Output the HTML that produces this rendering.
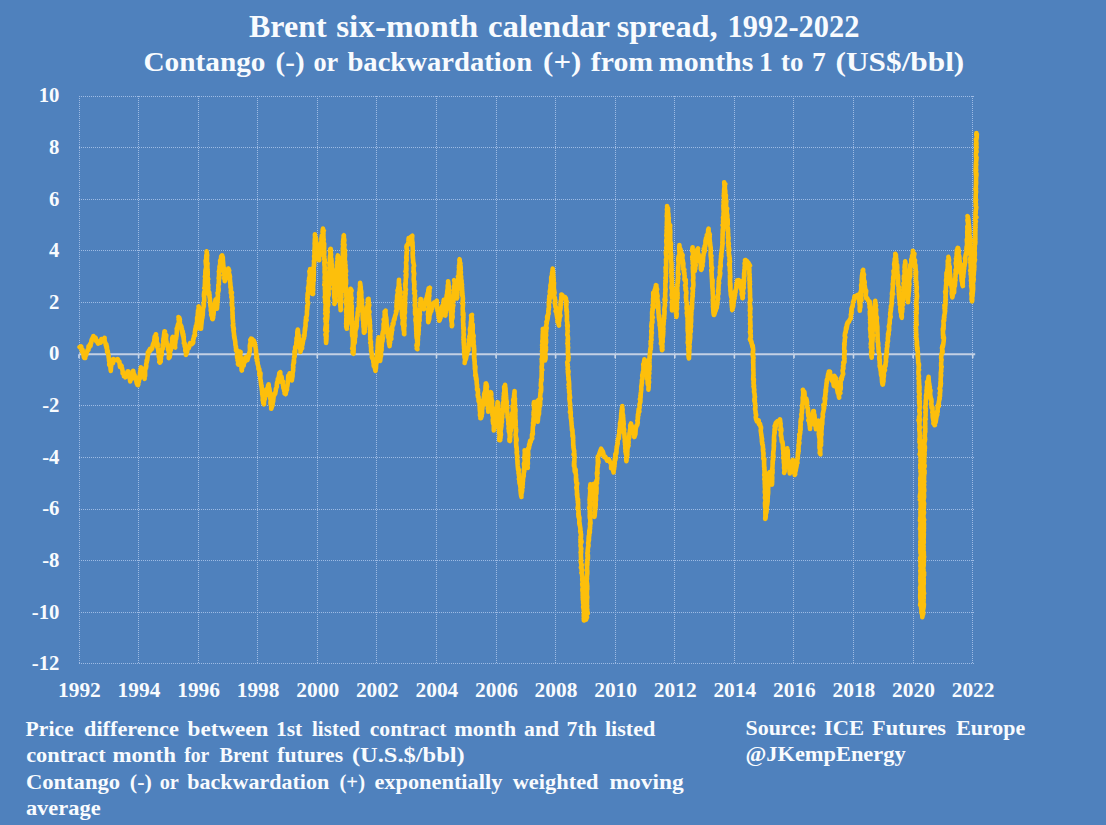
<!DOCTYPE html>
<html><head><meta charset="utf-8"><title>Brent six-month calendar spread</title>
<style>
html,body{margin:0;padding:0;}
body{width:1106px;height:825px;background:#4f81bd;overflow:hidden;position:relative;font-family:"Liberation Serif",serif;font-weight:bold;color:#f2f6fb;}
svg{position:absolute;left:0;top:0;}
</style></head><body>
<svg width="1106" height="825" viewBox="0 0 1106 825">
<g stroke="#9ebbe4" stroke-width="1" stroke-dasharray="1 1" shape-rendering="crispEdges"><line x1="79" y1="663.5" x2="975" y2="663.5"/><line x1="79" y1="612.5" x2="975" y2="612.5"/><line x1="79" y1="560.5" x2="975" y2="560.5"/><line x1="79" y1="509.5" x2="975" y2="509.5"/><line x1="79" y1="457.5" x2="975" y2="457.5"/><line x1="79" y1="405.5" x2="975" y2="405.5"/><line x1="79" y1="302.5" x2="975" y2="302.5"/><line x1="79" y1="250.5" x2="975" y2="250.5"/><line x1="79" y1="199.5" x2="975" y2="199.5"/><line x1="79" y1="147.5" x2="975" y2="147.5"/><line x1="79" y1="96.5" x2="975" y2="96.5"/><line x1="79.5" y1="96" x2="79.5" y2="664"/><line x1="138.5" y1="96" x2="138.5" y2="664"/><line x1="198.5" y1="96" x2="198.5" y2="664"/><line x1="257.5" y1="96" x2="257.5" y2="664"/><line x1="317.5" y1="96" x2="317.5" y2="664"/><line x1="376.5" y1="96" x2="376.5" y2="664"/><line x1="436.5" y1="96" x2="436.5" y2="664"/><line x1="496.5" y1="96" x2="496.5" y2="664"/><line x1="555.5" y1="96" x2="555.5" y2="664"/><line x1="615.5" y1="96" x2="615.5" y2="664"/><line x1="674.5" y1="96" x2="674.5" y2="664"/><line x1="734.5" y1="96" x2="734.5" y2="664"/><line x1="793.5" y1="96" x2="793.5" y2="664"/><line x1="853.5" y1="96" x2="853.5" y2="664"/><line x1="913.5" y1="96" x2="913.5" y2="664"/><line x1="972.5" y1="96" x2="972.5" y2="664"/></g>
<line x1="79.0" y1="354.3" x2="975.2" y2="354.3" stroke="#c3d0e4" stroke-width="2"/>
<g stroke="#c9d6e8" stroke-width="1.6"><line x1="79.0" y1="354.3" x2="79.0" y2="358.3"/><line x1="138.6" y1="354.3" x2="138.6" y2="358.3"/><line x1="198.2" y1="354.3" x2="198.2" y2="358.3"/><line x1="257.7" y1="354.3" x2="257.7" y2="358.3"/><line x1="317.3" y1="354.3" x2="317.3" y2="358.3"/><line x1="376.9" y1="354.3" x2="376.9" y2="358.3"/><line x1="436.5" y1="354.3" x2="436.5" y2="358.3"/><line x1="496.1" y1="354.3" x2="496.1" y2="358.3"/><line x1="555.6" y1="354.3" x2="555.6" y2="358.3"/><line x1="615.2" y1="354.3" x2="615.2" y2="358.3"/><line x1="674.8" y1="354.3" x2="674.8" y2="358.3"/><line x1="734.4" y1="354.3" x2="734.4" y2="358.3"/><line x1="794.0" y1="354.3" x2="794.0" y2="358.3"/><line x1="853.5" y1="354.3" x2="853.5" y2="358.3"/><line x1="913.1" y1="354.3" x2="913.1" y2="358.3"/><line x1="972.7" y1="354.3" x2="972.7" y2="358.3"/></g>
<path d="M79.6,347.2l1.2-.9 .4 .1 .4 3.2 .3 1.6 .2 .4 .5-1.8 .2 2.8-.2-1.1 .6 1.3 .4 2.5 .2 1.7 .5 1 .6-.2 .3 .1 0-2.1 .5-1 .5 .3 .1-2 .9-1.3 .2-1.5 0 .4 1.1-1 0-3.5 .3 .6 .6 .3 .6-3 .4 1.1 .2 .6 0-2.1 .6-.7 .2-2.2 .6-1.9 0 1.5 1-3.6 .4 1.9 0-2.6 1.2 2.5 1.1-.6 .5 3.1 .8 .4 1 2.1 1-.4 1.1-2.4 .7 1.7 .6-3.5 .6 2 1.6-1 1-2.2-.1 2.8 .5 1.3 .4 .8 0-.1 .4 2.8 .6-.9 0 3.3 .4-1.8 .2 1.6 .1 3.2 .1 1.5 .6-1.4 .2 2.7 .1 .6 .3 .6 .1 .5 .1 1.8 .3 1.5 .2 2.8 0-1.5 .5 .8 0 .5-.4 3.6 .8-1.9 .2 2.1 .3 .3-.1 1.7 .4 3.9 .2-3.8 .3-1.4 .3-4.3 .1 2.8 .8-1.2 .5 .1-.1-3.9 .5-.1-.4 1.1 1.5 .3 1.2-.5 1.9-1 .3 .4 .6 1.9 .9 .2 .2 2.1 .4 3.4 .8-.5 .5-.4 .3 .7-.2-1.3 .4 3 .2-.5 .7 3.5-.1 1.9 .3-.5 .9 1.5 .2-.9-.1 2.8 .6-2.1-.1 2.3 .7 .1 .2 .7 1-.9 .2-.6 .7-3.5 .3-.7 .2 2.7 .3-3.1 .6 .3-.1 3.5 .6 1.4 .4 1.2 .3 .9 .4 2.9 .1-1.1-.1-1.1 .8-1.7 0-.3 .4 .5 .3-1 .3 2 .6-1.7-.2-2 .8-1.8 0-2.5 .6 3.7 .3 .6-.1 1 .5-1.2 .3 3.5 .3-.6 .5-.3 .4 1 .4-.5-.2 2.7 .7 3.1 .2-2 .4 3.2 .5 .2 .1-.7 .3-.2-.4-1.8 .9-.7-.2-2.4-.1 1.3 1.2-2.1-.2-3.1 0 1.9 .5-1.8-.1-3.1 .5-.1-.1-1.1 .2-2.3 .3 .9 0-2.5 .7 2.9-.6-.4 1 .6 .3 2.2 .3-.8 .4-1.8-.1 3 .8 2.8-.2-1.8 .5 2.3 0 .5 .6 2-.4-4.3 .7 1.6 .2-.1 0-4.1-.1-3.5 .5 .8 0-1.3 .3 .3 .2-.3 .3-2.1-.2-.8 .3-1.8 .2-.7 .2-.7-.2-1.2 .7-.3 0-.9 .1-1 .5-3.9 .4-.7-.5-1.2 1.2-1-.4-.2 .7-1.3 .2 .5 .4 .6 .2-2.4 1.2 .9 .7-1.1 .6-2.5 .4-1.7 .2-.1 .7-1.7-.4 .6 .9-2-.1-1.8 .1 .4 .3-3.3 .5 .2 0-.1 .4-.6 .2-1.7 .3 .2-.1-.2-.1 2 0 .7 .8 .7 0 2.4-.2 .5 .6 3.4-.2 .8-.1-.6 .8 1.7 0-2.1-.3 3.2 .3-1.3 .1 1.8 .5 2 .2 2.1 .3 2.4-.2-2 0 .4 .4 2-.2 2.1 .5-.9 0 1.8 .1 1.4 .4 2.1-.1 .4-.3 .7 .8-.1 .1 .1-.2 .7 .4-1 .3-.1-.2-1.4 .3-1.2 .2 0-.2-2.5 .3-1.1 .3-1.9 .1-.5 0 .4 .2 1.6 .2-1.7-.4-1.3 .7-3.3 .6-.1-.1-1.1 .1-.4-.2-1.2 0-1.1 .1-.2 .9-1.9-.4-1.9 .1 .5 .2-3.1 .3 .2 .3-2.4-.3 1.6 .1-2 .1 .2 .1-1.6 .4-2.9 0 .9 .4-.9 .1 1.2 .4 3.1 .4-1-.1 1.1 0 .2 .6-.6-.5 4.4 .1-1.5 .5 3.6 .2 .2 0 .7 .1 1.1 .6 .9 .1 1.7 .3-.5 .5 1-.2 2.6 .1 0 .2 .1 .4 2.2 .6 1.8-.3-.4-.2 5 .6-2 .3 1 .1-1.5 .3-.8-.2-3.3 .1 .6 .5-1.8 .2-.7 0 .8 .1-.8 .2-3.3 0 .7 .4-1.2 .2-2.1-.1 2.1 .2-2.1 .3 .3-.1-1.4 .3-2.2 .5-3.6-.6 1.6 .7 1.7 .3 .8 .2-1.3 .2 4 .1-1.1 .6 .2 .3 4.4 .7 .3-.5-2.2 .4-.1-.2-2.6 .5 .1 0-2.6 .3-.6 0-.3 .5-1.1-.2 1.1 0-1 .5-2-.1 .5 .3-2.5 .1-3.2 .3-.7-.4-1.5 .6 .4 .3-1.4-.2-.8 0 0 .5-2.1 .1 .6 0-1.3 .7-1 .3-2.3-.4-1.3 .4-.1-.5-2.5 .8 .9 .6 1.6-.3 .6 .3 1.8-.2 2.1-.3-1.1 1 1.8 .8 1.4-.4-.1 .1 .1 .6 .6 .1 1.7 .4 .9 0 1.8 .2 1.5 .6-1.1-.3 2.3 .5 2.2 .4-1.9 .1 2.5-.1 1.3 .4-1.1-.1 2.4 .3 1.8 .1 1.7-.2 .3 .8 .3-.1 3 .7-.1 0 .4 0 3.3 0 1.1 .3-.2 .5 .6-.2 3.6 .4-1.8 .2-.4 .1 .6 0-.6 .4-.5 .5-2.7 .6-1.1 0-.4 .8-.2 0-1.4 .3 .4 .8-3.7-.8 2.6 .9-2.7 1.5 1.1 1.1-1 .6-1-.2-2.4 0-.2 .5-1 .1-.1 .3-2.4 .2-.4 .5-.8 .4 .5-.3-3 .7-3.7-.2 .4-.1 .9 .5-.4 .3-3.8-.3 2 .7-.6 .2-1.3 0-.1 .1-1.3 0-1.3 .7-2.2-.3-.7 0-2.9 .5 0 0-.4 .4-1.4-.3-1.6 .2 .4 0-2.1 .4-1.3-.3-.4 .5-.8 .3-2.7-.2-.7 .5 2.5-.1-.4 .6 .4-.2 1.3 0 .9-.6 4.5 .8-1.2-.2 .8 .3 3.7 .3-2.8 .2-.3-.2 2.1 .2 3.6-.4-1.5 .7 3.4 .2-.7 0 2.1-.1-2 .4 4-.7 1.9 .8-1.6-.1 1.7 .3-3.7 0-.3 .1-.5 .2-1.9 .1-1.4 .5-3.3-.2 .7 .4-.7-.1-2.3 .3 .5-.5-1.7 .7 .8 0-2 .1-1 .1-2.6 .1-.9 .5-1.7 .1-1.4 .1-.7 0 2 .1-2.7-.4-.4 .5-1.8 0-1.1 .2 .5 .1-.4-.1-2.3 0-1.3-.3-1.1 .4-1.2 .1-1.8 0 .5-.5 1.4 .3-3.1 1-.1-.5-5.1 0 1.5-.4-.2 .6-.4-.1-1.9 0-.5 .1-1.4 .1-4.2 .3 1.1-.1-1.7 .1 .6 .4 .2-.8-3.2 .8 .4-.1-.4-.3-2.8 0 .3 .1-3.9 .7 3.4-.5-3.6 0-.7 .2 .4 .4-3.5-.2-1.2-.1-.3 0-.4-.3-3.5 .4-1.1 .2 .5 .1 .2-.1-2.3 .1-3.1 .3 1.6-.2-1 .1 .3 .2-.8 .2-1.7-.3-2.1 0 .3 .6 3.8-.2-.1 0 2.1-.4 1.4 .4-1.1 0 2.9 0-1.3-.1 .6 .1 3.6 .6-.1-.3 2.2 0-.9 .1 3.2 0 1.2-.1 .2 .4 .6-.3-1.4 0 2.4 .3 .7 0 3.8-.4-.2 .4 2.6-.3-1 .1 .4 .4 1 0 1 .3-.1-.7 .9 .3 1.6 .1 .1-.1 2.4 .6 .9-.3 2 0 .6 .3 .7-.6 .8 .5 1.1 .2 1.8 .7 .7-.6-.6-.1 .1 .7 .1-.3 2.3 .7 .3-.1 1.7 .5 2.6 .1 3.5-.1-.5 .5 2.6-.1-1.1 0 1.1-.1 .1 .1 .7 .6 3.1 .3-1.4-.6 2.9 .7 2.7-.3 1.8 .5-.6 .1 .1-.2 1.8 .1-1.6 .4 1 .3 2.2-.1 1 .5 .4 0 .2 .5-1.9-.1-1.7 0 1-.1-.9 .5-.7 .3-4.2 .2-1.1-.1-.8 .1 .2 .1-.7 .3-.4-.5-1.4 .8 0 .2-4.4 .4 .8 .2-2.4 .4-.4-.3-.8-.2 .9 .7 2.9 .1 2.1-.4-1.2 .4 .3 .5 .7 0 2.3 .2 1.3 .2-.9-.2 0 .5-3.8 0 .2-.2-2.8-.2 .5 .6-1.2 .2 .9-.6-2.9 .6 .2-.4-1.1 .5-.2-.2-1.1 .3-1.3-.5-2.2 .6-.3 .2-1.1-.2-1.8 .2-.9-.1 1.3 .5 .3-.1-2.1-.2-.2-.1-3.1 .6-.9-.1-.9 0-1.8 .3-2.8-.5-.3 .2-1.2 .5 .9 0-3.1-.3 1.1 .1-3.3 .3-.7-.5-.5 .2-.2 .1 .1 .2-2.6 .6-1.3-.1 .6-.5-1.2 .5-2 .4-1.9-.1-1-.1-1.4 1 1-.3-1 .4-4.5 .3 2.8 .4-.2-.2-.5 .5-1-.2-2.1 .2 .2-.1 3.2 .7-1.6 .1 3.3 0-.4 .4 4.8-.3-.7 .3 .6-.1 2.3 .2-1.5 .1 1.3 .4 2-.4 2.4 .6 .5-.1-.2 .3 2.7-.5 .7 .5-1.2 .6 2.3-.2-.1-.5 2.7 .5-.5 .1 1-.1 2.2 .3-.6 .5-2.1 .2-1.4 .2 1.6 .5-2.4 .3-1.7 .1-2.3 0-.4 .2 2 .6-.1-.1-1.1 .8-1.4-.1-2.7 .3 1.7 0-1.7 .3 1.2 .4 .8-.2 .3-.2 3 .8 1.1-.6-1.9-.1 .5 .1 2.7 .9 1.6-.3-1.5 .4 0-.2 2.1 .3 2.3 0 .9 .1 .8 .1 .1 0-.2 .3 5.5 .1-1.6-.3 .6 .6 1.1-.1 2.5-.1-.2 .4 3.5-.4-1.1 1.2-.1-.5 .9 0 2.7-.2 .9 .8 0-.1 1.1-.2-.2 .3 3.1 0 0-.3 2.5 .1 1.6 .2-.4 .1-1.8-.3 2.3 .6 2.1 .2 1.4-.5 .2 .4 4.1-.2 1.2 .3 .9 0 .8-.1 1.6-.1-1.5 .2 2.9 .1-1.1-.1 1.1 .3 1.2-.1 .8 .2 1.6 .2 1.3-.5 1.4 .4 0-.1 2.4 .4-.5 .3 1.1 .1 1.3-.5 .2 .6 3.9 .1 1-.1 1 .3 1.6 .2 1.3-.1-2.6 .4 3.8 .2-.1 0 .7 .3 1.6 .1 2.9 .6 2-.1 1.2 0-1-.1 .1 .2 .9 .4 3.1-.4-1 .5 .9-.1-.3 .5-.8 .6 3.2-.5 1.7 .2 3 0 .1 .5-.3 .2 2.6-.3-.1 .4-.1 0 .1 .3 3.8 0-.6-.3 .7 .6-1.8-.2 2.4 .2-2.9 .5 2.4-.5-3.7 .9-2-.2 1.8 .1-3.3 .5-3.2 .2-.6-.3-1.7 .3 1.2 .3 .3 .2-1-.5 2.9 .7 2.8-.5 .3 .4-1.1-.1 2.7-.1-1 .6 1.3-.1-.7 .6 3.2-.4 1.9 0-1 .3 1 .4 1.8-.5 1.7 .5 2.8-.3-.3 .3-3.8 .3 1.7 .6-3 .4 .4 .5-.1 .2-2.5 .2-1.6 .2 .2 .3 .4 .5-.4 0-2 .3-2.3 1-.5 1 3.3 .6-2.3 1-3 0-.6 .2 .9-.2-1.1 .7-2.4 .2-1.2 0-1-.1-3.7 .5-2.4-.1 1.9 .1-1.6 .6 2.1 .1-2.5-.7-3.3 .4-.4 .4-.9-.1 3.5 .4-3.4 .7 .2 .1 2.9 .8-.4 .4 .8 .4-1.6 1.1 3-.4 1 .5 .5 .1-.4 .5 3.2 .1 .7 .1 .3 .2 1.5 0 1.1 .1 .9 .4 4 .5-.4-.7 1.8 .7 .4 .2 2.3-.4 0 .5-1.3-.2 2 .3 .2 .3 1.4-.2 .6 .8 2.8 .1-.1 .1 1.3-.1 1.2 .5 1.2 .4-.8 .2 4.1-.1 1.9-.1-1.7 .3-.3 .4 1.5 .5-1.3-.3 5.6 .2 .4 .1 .4 0 .3 .3 1.2 0 1.2 .3 .7-.1 1.7 .6 .9-.2 1.2 .1-.2 .6 2.1-.4 .3 .3 1.4-.1-.4 .5 1.5-.3-.1 .1 2.7 .5 1.1-.2 .7 .3 1 0 1.5-.1 2.1 .5-.2 0 2 .1 .8 .7 1.2-.1-2.4 .3-2.1 0 1.3 .3-3.3 .3 1.1-.4-.8 .9-2.8 .2-2.3 .1 2.4-.1-.9 .3-3.9 .4-.7 .4 .2 .5-1.3 .8-1.3 0-.6 .2-1.7 .6 .6 0-1.4 .1 1.4 0 2.7 .4 .7 .1-1.1 .3 1.7 0 .8-.1-.6 .6 3.6-.3 .8-.2 2.3 .8-.9-.3 2.2 .7-1.8-.4 2.7 .5 1.4 .2-2.1-.6 4.2 .2 2 .6 1.8-.1 2.6 .5-1.3-.3-.5 .4-1.1 .4-1.9 .1 .7 .1 1 .2-.9 0-1.7 .6-1.9 .1-2.1 .2-1.1 .3-3.4 .2 .4 .3-1.3 .3 1.2 .6-1.9 .1 .6-.1-.4 .6-2.4 0-1.9 .3-.1 .4-1.6 .2-1 .2 .5-.2-1 .4-3.5 .7 .4 0-2.7 0-1 .5-.3 .4-.2 .1-2.3 .1 1 .1-.9 .3-3 1-1 0 1.2 .1 1.9 .1 1.9 .6 1.5 .5-1.9 .3 2.8 .1 2.7 .7 .3 .3-1-.4-.2 .3 3 .1 .9 .3 1.2 .1 1.5 .5 1.2 .3 .7-.1 1 .5-2.3 .2 2-.2 3 .6 .2 .4 .4-.1-.1 .5-1.7 .2-.9-.4 .4 .6-2.5 .4 .4 .2-.1-.1-2.2 .1 .1-.1-.4 .5-1.3 .5-4.3-.1 .8 .1-2.2 .1 1.8 .2-6.3 .3 .2 0 .3 .7-1.1 .4-1.8-.2 1.7 1 2.8 .6-.8 .2-.7 .7 4.1 .3-3.1 0 1.1 0-3.7 .4 .9-.1 1.3 .1-3.3-.1 .4-.3-.4 .6-1.5 .4-1.6-.1-3.3 .3 .1-.3-2.2 .9-2.6-.5 .7 .4-2.2 .2-.2-.2 1-.2-.6 .3-2.2 .2-2.6 .5-.1-.3-4.7 .1 .9 .4 1.2-.1-.9 .4-.4 0-3.7-.1-1.3 .5 .8-.1-.5 .1-1.3 .6-.4 .2 .9-.2-3.6 .3-2 .3 2.3-.3-5.2 .5-1.2 .1 .6-.1 1.6 .8-3.5-.5-.3 0-3.7 .5-2.4 .4 3.7-.2 1.6 .7 .4-.3-.4 .3 2.8 .1 1 0 2.5 .2-.2 .1 .1 .3 1.5 .4 3.2 0-.6 .2 1.5 0 .8-.1 .3 .6 2.4 0 1.2-.1 .6 .4-1.7 0 .6 .6-1.9 .4-2.3 .3 1.6-.3-1.9 .3-1 0-.7 .2 .7 .5-2.5 0-1.4 .3-.1 .3-2.7 .6-.2 0-1.9-.2-.9 .2-.4 .5 .7 0-2.4 .1 .7 .1-2.7 0-.7 .2-1.2 .2 .7 .1-2.1-.3 .7 .1-.5 .5-2 .1-.1-.1-3.2 .4-2.6-.2-.2 .1 .2 .2-1.9 .6 1.4-.6-2.6 .6-.9 .2-.9 .2-1.8 0 .2-.1-2.2 0 0 .2-1.8 .4-2.8-.1 .2-.3 .4 .4-1.8-.3-.1 .4-.9 .2-.2 .3-1.8-.6-1.9-.1-1.8-.1-.8 .5-1.1-.1 .3-.1-.1-.1-2.6 .3-2.3 .4 1.3 .1-3.4-.1 .2 0-1.2-.2-1.8 .8-.7-.3 1 .1-3.1 .2 .4 .1-2.4 .1-1-.3-1.2 .5-.5-.1-2.3 .1 1 .6-2.2-.2 .4 .2-2.8-.3-2.3 .5 1.4-.4-2.2-.2-.1 .6-.2 .1-2 .1 2.2 .4 1-.2-.2 .3 .6 0 1 0 1.7 .1 3.1 .3 1.3-.1 .9 .3 .6 0-1 0 1 0 2.7-.1-2.1 .3 1.6 .4 1.7 .1 3.3-.2 .2 .6 .9-.6 1.9 .9 .7-.6 .9 .6-.4-.2 1.4 .5-.4 .2 0-.2 .4-.2-2.3-.1 1.1 0 1.2 .4-4.2 .2 .1-.2-1.7 0-1.1 .3-3.8-.1 1.5 .1-1.3-.1-.3-.3 .5 .2-1.5 .6-1.9-.3-2.2 .2-.7-.5-1.4 .3 .6 .4-1.5-.3-1.8 .2 0 .2-1.5-.3 2.1-.4-.5 .5-1.4 0-2.6-.2-2.4 .6-1.2-.3 .8 0-2.4 .5-2.3-.3 .9-.2-1.8 .4 .9 .1-3.2 0-1.8-.2-1.1 .2 .7-.2 .2 .5 0-.2-2.6-.1-2.4 .1-2.1 .3 .5-.1 .4-.1-2.2 .1-1.3 .1-3-.2-1.2 0 .9 .2 1.5 .3-.4-.2-3.3-.1 .5 0-2 .1-1.4 .3-1-.1 .5 .1-1.9-.3-1.9 .1 2.4 .2 1.2 .1 2.1 .7 .2 .1-1.4-.5 .5 .6 2.6-.5 .4 .6 1 .1 .7 .1-.8 .6 4.7-.4-.4 .6 1.4-.4 1.6 .5 .5 .3 2.3 .2 .3 .2-.2-.1 .5-.2 2.5 0-.5 .5 1.6 .2 .6 .1-1.2 0 2.9 .6 .4-.4-2 .4-1.6-.1 .3 .1-.2 .5-.9 .5-1.4-.4-2.1 .4-.4 0-3 .2-.9 .1 1.5 .1-2 .3-4.7 0 2.1 0-1.3 .6-.8 .1-.8-.2-4 .2 1.6 0-2.6 0 2 .2-2.8 .6-1-.5 .3 .5 .4 .6-3-.5-1 .3-1.7 .2-1.6 .2 3 .6-1-.5 .8 .2 2.2-.1 .9 0 3.9 .1-2-.1 .5 .2 2 .2 .8-.4 1 .2 2.3 0 1.8 .2 .4-.3-3 .7 1.7-.1 .3 0 4.3-.2 1.5 .2 .3 .2 1.3-.3 .4 .3 .4-.3-.5 .2 2-.4 1.5 .6 1.1-.4 2.3 .6 .2 .2 1.6-.5 1.9 .2 .8 .4-.8-.5 .7 0 1.2 .3 2.7 0 2 .2-1.1-.3 .3 .1 1.4-.1 2.7 .1 .6-.2-1.1 .4 1.6 0 1.9-.2 .9-.1 1.4 .2-.9 0 .3 0 1.6-.1 2-.1 .9 .2 1.6-.5 1.5 .7-.3-.1-1.3 .1 3.3 .1-.2-.3 2.6 .3 2.2-.1 .5 .1 1.5 .1 1.8-.1-.8 0 2.3 .2 .7-.6 .3 .6 1.1-.2 1.1 .1 2.3-.1-.8 0 1.6 .7-.4-.2 3.4-.1 1.7 .1-2.4-.1 3.5 .2-2.1-.4 4.1 .3 .4 .1 .6-.1 1.1-.4 1 1-.3-.4 2.2 .1 2.4-.5 .7-.2 .2 .6 .6-.1-1.5 .2 3.8-.4-.2 0-.6 .7 3.5-.2-.3-.4 2.5-.4 3.6 .6-.9 .4 3-.4 1.8 .3-.3-.2 .1-.1-.2 .5-.6-.9 1.5 .5 2 .5 1.2-.5 .7 .1 .2 0 1.1 .1 3.3 .4-4.5-.2 0 .1-.9 .2-1 0-.6-.2-2.8 .2-1.8-.2 .7 .7-.9-.8-.1 .5-2.4 0-1.3 0 .3 .1-3.3-.1-.6-.2-1.4 .2-2-.4-1 .4 1.6 .4-2.5 .2-3.5-.1 .2 0-.2 0-.1-.3-3.1 .7 .5-.1-1.1 0-.3-.4 .3 .3-1.5-.1-1.9 .1-1.9 .8-1.6-.5 2.2-.2-1.3-.1-5.3 .8 1.2-.5-.5 0-1.2 .2-2.4 0-.2 0-1.4 .6 .2 .2-1.2-.4-2.7 0-1 .2 .5-.2 .7 .1-3.4-.1 .2 .6 .1-.2-3.5-.5 1.2 .4-1.4 .4-3-.3 .3 .3-.3 0-.4-.3-1.3 .3-2.1 .5-4.1-.7 .9 .4-2.2-.2 .9 0-1 .2-1.4 .3-1-.1-.4 .3-.1-.2-.5-.2-1.8 .4-1.5-.2-.4-.2-2.7 .6 .4-.5-.5 .4-1.5 .1-2.1-.2-.4 .4-2.1-.3 .6 .4-2.2-.2 .6 .1 .7 .3-3.7-.1-.8-.3-.7 .3-2.3-.2 1.7 .4-.3 0-1.7-.1 2.2 .3-1.9 .1 1.4 0 .1-.2 2.1 .4 2-.2 1-.1 1.9 .6 1.6 .2 2.6-.1-.1-.2 .3 .5 2.5-.3-.6 .4 2.6 .1-1.7 0 3.9 0 .1 .4-.5-.2 5 .3-1.7 0 0-.3 2.1 .3-1 .2 2.7-.3 2.1 .2 .4 .3 .3 0-.5 .2 .4-.1 1.2 0 2.3 .1 2.5 .3 1.1 0-1.2 0 .6 .6 1.5 0 1-.5 2.1 .5-2 .1 .5 0 4.5-.1 .5 .1 1.5 .1 .2 0 2.8 0 .6 0-.5 .5 1.2-.1 1.7 .1 1.6 .2 .9-.5 1.2 .7-3.2 .4-.2-.5-.9 .3 1.1 0 .1 .1-3.2-.2-2.4 .1-1.1 0 .6 .1-1.1-.4-.4 .7-2.1 .2-2.4 .1 .2 0 .2-.4-1.9 .2-1.4 .1-.6-.2 2.5 .3-2.2 .4-3-.4-1.4 .2-.6 .2-3.8-.2-.7 .3 1 .5-1.3-.5-.3 .1-1-.2-3.9 .8-.9-.4 .5 .3-1.1 .2-.3 .1 .2-.2-1.8-.1-1.6 0-2.7 0-.6 .3 1.7 .2-.2 .1-1.1 0-2.8-.3-1.3 .7 .8 0-3.1-.5 .6 .3-1.3-.1 1.1 .1-.9 .2 3 .2 1.3-.2-.8 .3 2-.1 1.1 .4 1-.4-1.7 .1 5.7 0-2.7-.1 .4 .6 2.8-.2 1.9 0 1.9-.1-1 .1 1.9 0 0-.1-.2 .2 2.3 .5 1.5-.3 1.5-.2-.6 .1 2.4 0 1.5 .3 .8 0 2 .2-.3 .4 1.1-.5 .7 .3 .8 .1 1.6 .5-.7-.6 4.3 .2-1.6-.5 2.2 .2 .8 .7 1.5-.6 1.9 .6 1.7 0-.9-.2 2.7 0-.3-.3 2 .3 1.6 0 .7 .2-1.4-.1 2.4 .2 1.2 .2 1.8 .1 .4 0 2.4 .5-.8-.2-1.4-.1-2.1 0-3.1-.3 .2 .7-1.5-.6 1 .2 1.3 .3-2.9-.4-2.5 .7-1-.6 1 .4-.1 0-1.5-.2-1.3 .1-2.7 .4-.8 .2-2-.4-.6 .2 .7-.3-1.7 0-2 .6 1.2-.1 .6 .1-2.4-.2-.7 .6-1.6-.8-3.6 .6-.9-.2 1.5 .1-.8-.1-1.4 .2-1.5 .5 .2-.3-4.1 .1 .2 0 .6-.4-.8 .7-3.9-.6 1.5 .4-.1 .1-5.2 .1-.5-.4-.5 .2-1.9-.1 1.8 .7-3.6-.3 2.7-.4-2.8 .4-2.8-.3 1.9 .2-1.7 .2-1.5-.2 1.7 .4-1.7-.2-2.6 .3-2.7-.3-.6 0-.1 .2-2.1 0 1.7-.2-1.3 .7-4.1-.7-.1 .5-.3-.3-2.8 .1 .9 .4 .2-.2-1.1 0-1.6 .2-1.3 .2-1.3-.3 2.4 .3-2.7-.1-1.1 .3-.4-.1 1.9 .1-.4-.1 2.5 .6 1.3-.3-1.9-.4 .9 .5 2.2-.4 1.7 .2-.6 0 2.3 .6-.4-.3 1.4-.1 1.4 .2 1.9-.2 2 .8-1.3-.2 2.1 0 2.8-.4 .2 .6-1.2-.1 3.1-.5-1.2 .3 1.1 .1 2.5 .1 3.2 .4-.9-.4 1.5 .7 1.8-.4-1.2-.3 .5 .6 2.9 0 2 0-2.3-.2 1.7 .5 .7 .3 1.9-.8 2.2 .7 1.8-.5 .3 0 2.9-.1-.7 .1-.9 .6 3.3-.5-.2 .4 1.1-.4-.7 .5 2.2-.1 1.6-.6-.4 .3 2.4 .2 1-.1 1.7 .2 2.4 .1 .3 0 1.4-.2-2.2 .3 4.4 0 .4-.3-.6 .4 .5 .2 2.1 0 1.5-.6 1.1 .3 2.6 0 .9 0-.9-.3-.6 .2 .9 .1 .4 .5 2.8-.5 3.4 0 .6 0 .3 .1-.4 .1-.5-.3 2 .3 1.2 0 .7 .3 2.4-.4-.5 .4 2.4-.1 1.2-.3-1.1 0 4.3 0 2.5-.2-1.5 .4 1.4 0 2.8-.3-1.2 .5 .5 .1 1.9-.2-.6 .2-1.2 .4-3.4-.5 .3 .4-.6 .4-.1-.1-5.7-.2 3.2 .4-3.9 .1 .8-.1-2.3 .4 .3 0 1.8-.4-3.6 .6 .2-.1-2-.1-.3 .6-1.6 .3-.9-.1-1.5-.3 0 .5-2.1-.1 .2 .4-.9-.3-3.7 .5-1.8 .2 .8-.2 .2 .5-.3 0-1.5 .1-3.4-.3-1.4 .4-.2 .1-.5 .2-2-.3-1 .8 .1-.4-1.4 .7 1.1-.4-.4 .7 1.2-.4 1-.6 1.3 .2-.8 .3 2.4 0 3.1 .1-.2 .5 .4-.1 1.1-.5 2.2 .1 .6 .2 .2-.1 .7 .1 2.7 .4 .5-.1 .8 .1 1.9-.6 1.6 .4 1.5-.1-3.4 .1 .1-.1 .6 .3 3.1-.1 .3 .1 1.7 0 1.3-.3 2.2 .4-.4-.1 .8 .2 .8 0 3.1 .1-.3-.5 .7 .4 1.5 .3 .1-.3 1.5-.2-1.6 .4 3 .1 2.1-.3 .2 .3 0 .3 .6-.6 .7 0 2.3 .3 3.7 .2-.3-.3-.3 .6-.7 .3 4-.3-1.1 .1 2.1 0 .8 0 2.6-.1 2.2-.1 1.5-.5 1.3 .5-1 .5 .4-.2 1.7-.3 2.5 .7-1.7-.8 1.6 .2 1.2 .7 .5 .1-3.1 .1-2-.1 .4 0-3 .1-2.7 .5-1-.7 .1 .8 1.3 .5-1.7-.4 .4-.5-2.4 1 0-.4-2.1 0-.6 .7-.9 0 1 .3-2.1-.2 .1 .1-3.9 0-1.9 .4 .1 .1-.3 .2-1.4 .2 .4-.1 .1 .6-2.8-.2-1 .2-1.7-.3-1.2 .3-.7 .1 .2 .2-1.5 0-1-.1 0 .3-2.6 .3-.1 0-1 0-2.5 .2-1 .4-.2 0 .1-.2-2.9 .4-.5 .1 1.4 .5-.5-.1-4.4 .1 .7 0-1.9-.2-1.9 .5-.7-.1-1.2-.3-.7 .4-.7 .1-2.1-.3-1.4 .3 .1-.3-2.2 .5-.2 .1-1.3 .1-2.5 .1 1 0-1.7 .3-.3-.1-.7 .3-2.1-.3 1 .3-1.1-.3-1.9-.1 3 .5-.2 0 1.6 .3-.1-.2 1.2 .3 1.3-.1 1.5 .1-.2 .2-.3 .3 2.2-.1 .4-.1 2.7 .2 .1-.2-.2 .3 2.9-.3 .1 .7 1-.4-.6 .6 3.3-.4 2.3 0 .2 .2 .6 .4 .6-.3 1 .2 .6 .1 .2 .4 2.2-.6-2 .5 1.2 0 5.6 .2-.5-.2-2.6 .2-.9-.1 3.6 0 2.8 .2 2.6 .7 .5-.3-.1 .1 .2-.1 2.9 .4 1.6-.3 1.7 .3-.6-.3-1.2 .3 2.8 .3 3.2-.2-.2 0-1.4 0 2.2 .3 1.2-.2-.2 .5-2.4-.5-.6 .4 1.4 .1 0 .4 .7 0-2.9 .3-2.1-.2 1.4 .4-4-.4 .7 .3-2.7 .4 .1-.2-2.3-.1 .3 .5-.6 .4 .6-.1-3.5 0-1.4 .5-.7-.1-2.9 .3 2.1-.2-2.8-.1-1.7 .5 1.3-.2-2.6 .4-1.1 .1 1.6 .5-2.2-.2-.7 .5-4.4-.3 1.4 0-1.2 0-2 .6 .4 .2-1-.1 1.4 .1-.6 .1 3.1-.2 1.7 .5-1.5-.2 .7 0 1.4-.1 1 .6-.8-.8 2.9 .2 .2-.2 1 1 2.6-.2 .5-.4 1.8 0 2 .3-.8 .2 2.6-.2-.1 .3 .9 .3 1.7-.2 1.3 .4 0-.3 1.1 .4 3-.3 .1 .3-.8 0 .8-.1 .5 0 2.3 .2 1.1-.3-.5 .7 1.7-.6 1.2 .3 .4-.1 3.1 .2 .9-.2-.2 .1 .9-.1 1.8 .6 2 .2 .6-.7 .9 .6 .3-.3 0 .4 2-.1 .2-.1 .7 .5 1.5-.3-.8 .2 4.4 .2 .3-.4-.6 0-.3 .7 2.9-.1 .8 .6 1.9-.4 1.1 .1 .1 .7 1.7 .7 .1 0 3.1 .2 .4 .2-.2 0 3.6 .5-1.3 .4 2.2 0-.9 0 1.3 .4 1.5 .5 2.2 .1-.7 0-1 .4-1.2-.5-1 .6-1.4-.3 2.3 .2-3 .3-2.9 .1 .1-.1 2 .4-1.8-.3-3 .4 1.1-.3-2.2 .5-.4 .2 .7-.1-2.2-.1-2.2 .2-1.1 .3-.6-.3-1.4 .6-.5-.2-2.8 .1 .1 0-.8 .5-1.6-.6 1 .5-5.6-.1-.1 .2-1.9-.1 .6 .8 .6-.2 .2-.1-3 .2 .9-.2 1.7 0 1.2 .6 1.4-.2-.2 .2-1-.4 3.5 .4 2.8-.3-2.6 .3 3.1-.2 1.9 .7-.1 0-.1 0 1.1 .5 1.9-.3-.6-.3 3.6 .8 .3-1.1 2 .4-.2 .3 1.2 0 .1 .2 1.8 .2-2.2-.1 .2-.1 .2 .4-1.5 0 .2 0-3.3 .5 1.5-.1-4 .5-1.7-.7 .4 .8-.8 0-1.2 0-1.2-.1-.7 .3-.8-.1-1.4 .3-2.3-.5 .9 1-2.2-.4 .5 0-.1 .8-3.3-.4-1.3-.1-2.5 .3-.9 .4-1.8-.3 .6 .4-.9-.2 1.6 .6-.1-.2-1.1 .2-4.4 0-.8 0-2.7-.1 1.1 .7-.4-.4-.8-.2 1.6 .6-4.2-.5-1.6 .8-.1 .2-2.1 .1 .3-.2-3.1 .6 2.1-.4-.4 0-2.2 0-.2-.2-2 1-1.2-.2 2.2 .1-1.3-.2 5.4 .4-3 .1 2.1-.1 .4 .5 .9 .2 2.4 .1 .2 0 1.5 .1 2.8-.2 0 .6 1.3 0 .2-.2-.6 .7 3.2-.5 .8 .1 .8 .9 1.1-.3 1.8 .1 2.1 .2 .5-.2 1 .6 1.3-.6-2.5 1 1.6 0 2.4 .1 2-.2-.1 .4 1.9 .1 1.5 .3-.1 .1 1.8 .1-2.4 0-1.9 .1 .9 .1-.2 .3 0-.5-1.8 .9-1.3 .1-1.2-.2-.4 .8 1-.3-2-.1 0 .7-2.9-.2 .6 .4-2.6-.1-2.3-.3 .1 .9 .3-.3 0 .3-3.6 .8-1.8-.4-.9 .3 .5-.2 1 .6-1.1 .3-3.5 .6-2.1 .2-.4-.1 1.6 .5-2.8 .4-1.8-.1 .3 .7-1.6 .5-2.2-.4-.5 .6-1 0 1.1-.2-.5 .2 .4 .1-2.2 0-.9-.3-2.1 .1 1.4 .2-5.5 .6 2.7-.1-3-.5-.9 .6-1.3-.2 .7 0-4.7 .5 1.1 .1-.6-.3-1.5 .5-.2 .3-.6-.7-3.1 1.1-2.3-.3-.3 .1 .3-.2 3.4 .1-3.9 .4-1.3 .2-2.6-.1 1.1 0-1.9 .2-3.2-.1 1.2 0 3.5 .5-.1-.3 3.6 .1 .8 .4 .1 .2-1.2-.1 4-.2 0 .4 2.6 .3-2.4-.3-.2 .6-.2-.3 6 .1-1 .3 .5-.2 3.3-.1 .5 .5 2.2 .4-1.4 .1 1 .2 2.4-.3-.9 .1 1.9-.1 2.7 .6 .9-.4-2.7 .2 1.2 .2 2.6 0 1.1 .3 .9-.2 1.9 .1 .3 0 .7 .6 2.3-.3 0 .1 .3 .7-.5-.6 6.5 .5-2.9-.4 2.1 .6-1.9 .3 .1-.2 2.6 0 2 .1 1.2 .2 2.8 0-.1 0-.1 .7 1.5-.3 2.5 .3 .2-.3-2.5 .2-3.1-.4-.6 .8-2.1-.3 .5-.2-.5 .4-.6-.1-1.8-.2 .4 0-1.6 .1-.7-.1-.2 .2-.1-.1-3.9 0 0 .5 .8-.5-2.1 .2-2 .3-3.5-.2 3.2 .4-1.5-.3-3.3 .2-.2 0-2.5 .2-.1-.3-2.6 0-.2 0 .8 0 2 .4-2.4-.2-1.3 0-3.3 .2 .2 .1-.8-.3-2.7 .1 1.3 .6-4-.6-1 0 1.2 .5-2.6 .4-1.4 0 0-.5-.6-.1-1.9 .1-1.1-.2 .6-.2-2.6 .5 1.5 0-2.1 .2-.1-.1-.9 0-2.2 .3-3.5-.4-1.4 .3 1.6 .4 0-.1 .6 .2-3.1-.4-2.4 0 .8 0-1.8-.5 .6 .9-.6-.1-2.6 .1-2.5-.4 3.5 .2-1.7 0-3.4-.2-1.5 .7-2.6-.2 .2 0-.3-.3-3 .5 1-.3-2.5 .3-1.4-.1 .6 .1-1.7-.2-.4 0-.5 .3 0 .1-2.8-.3-.6-.2-2 .5-1.6-.2 1.7 .3-1.5 .5-.3 .5-.2 .4-3.2 .3-3.5 .7 1.2 .5-.7 .1 1.2 .7-2.7 .4-.1 .2-.3 1-.8-.2 1.5 .1-.5-.4 .7 .4 .3-.2 .9 .2 1.3 .1 1.5 .3 1.3-.1 1-.7-.6 .8 1.5-.2 1.2 .4 0-.1 1.6 .1 3.2-.1 3.1 .2 0-.1-1.3-.2 .4 .1 1.9 .1 3 .2-1.1 0 .4-.2 .7 0-1.3 .5 5.2-.2 .5 .2 .5-.2-.6 .5 1.1 .1 .8 .4 1.7-.6 1.7 .2 3-.4 1.1 .7 1.3-.4-.5 .3-.6-.1 2.2 .4-.5-.4 3.1-.1 2.5 0 .6 .2 1.6 0 1 .4-.1-.2-.9 .3 .5-.3 1.2 .4 1.5-.2 .1-.1 1.7 .1 .6-.2 2.1 .1 1.3 .8 .9-.5-.3 .3 1.5-.6 .9 .5-.4 .3 2.8-.1 .6 .2 .2-.4 2 .6 1.6-.6 0 0 .4 .4 2.1 0 1.1 0 2.8-.4-1.6 .4 2.2 .3 .7-.4 1.8 .4-.5 .3 1.5-.7 .7 .1 3 .5-1 .6 .2-.4 2.4 .4 .6-.6 2.1-.2 2.2 .5-.9-.3 1.3 .6 2.9-.2-1.6-.1 .6 .2 2.9 0 .3 .3-.6 .1 1-.4 1.4 .2 3.6-.1-.9 .6 1.9-.5 1.4 0-1.1 .2 1.6 .3 .5-.4 .5 .3 2.7 .2 .4 .2-.5 .1 5.1 0-.4-.1 .5-.2 .5-.4 1.8 .9 .3-.3-2.5 0 4.6 .3 1.3-.7-.8 .5-2.5 0-.2 .6-1-.1-4.5 0 2.7-.1-1 .2-.6 .2-2.2-.2-1.5-.1-.6 .3 .3 .1-2.8 .4-1.8 .2 1.1-.2-1.7-.3-1.7 .3-.1 0 .5 .3-.4-.2-3.2 .5-1.7-.1-.8-.2 .9 .2-2.2-.2-1.7 .4-1.5 .4 .3-.2-3.1 .2-.8-.2 1.3 0 .7-.1-3 .4-1.7 .3 .4-.4-1.8 .2-1.3 .1-1.3 .1-1.5 .1-.8 .1-2 .2 1.1-.3-1.7 0-2.2 .3-.5 .3-2.3-.2-1.1 .4 0 .1 4.4 .4-.6 .5 .5 .2 4.1 .5-1.2 .5 .8 .3 1.2 .5 1 .4-5.2-.1-.6 .4 .3 .3-.3 .4-.5 .3-1.5 .2-2.1 .5-.3 .6-1.8-.5 1.4 .6-1 .1-2.1 .3 .5 .2-2.7 .8 1-.1-4.4 .3 .1 .1-1.5 .3-.4 1-.1-.2-.2-.5 1.6-.1 .3 .3 1.4-.3 2.1 0-1.2 0 3.8-.5-.2 .5 .1 .2 .2-.6 1.2 .2 1.1-.2 3 .1-1.8 .3 3-.1-.4-.3 2.8-.3-.2 .4 .4 0 2.3-.3 3.3 .4-.5-.6-1 0 1.6-.2 1.8-.2 2.5-.1-1 .5-.2-.2 3.1 .1 1.9-.2-.5 .4 1.8-.4 .2 .2 2 .2-.8 0-2.8 .3-2.6 .3 3.8 .3-2.3-.1-1.3 .6-2.1 .1-.3 .3-1.1 .3-2.5 .6-.9 .2 1.7 0-2.1 .3-2.9 .6 2.2 0-1.7 .4-1.4 .3-1.2 1.1-1.4 1.4-.3 1.3-1.5-.2 2.1 .2 1.4 .3 .9-.3 .5 .5 2.4 .2 2.6 .4-3 0 1.4 .3 4.7-.1-1.9 .3-.5-.2 3.1 .6 1.6-.2 1.5 0-.6 .5-.2 .4 2.2-.2 1.7 .5-.9-.1 .4 0-2 .2 .6 .6-.6-.3-2 .9-.4-.4-2.3 .5 .9 .5-2.5 .1-1.1-.1-1.2 .2-.3 .3-3.2 .6 2 .2 1 0-1.1 .3-3.5 .2-2.4 .1-.8 .2-1.5 .1 3.1 .2-.3 0 2.5-.2-1 .7 .2 0 2.3 0 2.8 0 .9 .3-1.6 .1 2.1 0 .2-.1 4.5 .6-.2-.2 .2 .3-3.5 .2 .3-.3-.2 .1-.1 .5-1.9-.3 .5 .3-.7-.1-1.2 .2-1.7 0-.6 0-2.3-.1-.1 .5-1.3-.2-.9 .1-1.2 .1 .2-.1-3.9 .4 .5-.3-1.5 .2-.7 .3-1.6 .1-1.3 0-1 .5-.4-.1 1.3-.1-3 .3 .3-.1-3.7 .2-.7-.1 .8 .1 1.3 .1 .1 .5-3.8-.4-2.3 .2 3-.2 .4 .6 2.4 0-.3-.2-.5 .3-.7 .2 3.9 0 1.5-.3-1.1 .4 2.2 0 1.8 .2-1-.4 .8 .3 .9 .1 .3 .7 3.3-.5 2.7 .2 .7-.1 .1-.1 .1 .3 3 .1 .1 0 .4 .5 0-.5 1.9 .2 1.6 .5 .5-.1-.3 .2 1.1 .3 2.4 .2 .7 .1-.6-.2 1.3 0 1.3 .1 .1 0 4.3 .1-.5 0 1.5 .2 .2 .3 2.4-.3-1.5 .4 1.6-.1 2.3 0 .8 .4-1.3-.2-.9-.3-2.3 .3-4.2 .4 1.1 .1-1.4 .2-.3-.5-3.5 0-.9 .2 2.1 .1-3.1 .1 .5 .3-.8-.6-2.6 .3-1.8 .2 1.8 .3-3.4-.2-.4 .5 .5-.3-1.6-.3-2.6 .6 0 0-2.2-.2 3.7 .5-5.7-.2-.8 .2 .3 .2-.2-.1-.6 .4-4.9 0-1.6-.5 1.2 .6-.6-.1-2.2-.2-1.1 .6-.8-.2 .6 .1-1.5 0-.7 .3-3.3-.7-.7 .3 1 .4 .6 .3 .3-.1 1.2 .2 .3 .2 .7 .3 3.8-.4 .8 .6 1.6-.5 2.5 .5-1 0 1.7 .9-.5-.8 2.2 .8 .2 0 0-.3 1.6 .7 .3-.4 1 .1-.5 .2-1.9 .2-3.1-.6-.6 .5-1.5 0-1.1-.2-.9 .6 1 0-1.2 .1-1.3-.2-2.5 .6-.1 .2-.5-.3-2.8 .4-.7-.3 1.9 .1-1.3 .1-3.2 .5-1.7 0 .7-.8-.7 .7-.4 .1-4.8 .4 2.1-.1-2.6-.2 .1 .3-1.4 .1 0-.4-2 .7 .8-.3-2.7-.3 .1 1-1-.6-1.4 .2 1.1 0-2.6-.2-1.6 .2-.9 .3 3.1-.3 2 .8-.9-.6 .2 .4 .9 .4 1.8 .2 2.9-.4 .7-.2-.4 .7 2.7-.4 .1 .4 1.5-.3 .5 .2 1 .4 1.6-.2 .8 .3 2.3 .1 1.1 0 .3-.4-1.3 .6 .5 0 3 .4 .7-.7 .3 .4-.6 .3 3.3 .1 .5-.2 1.1 .3 .7-.3 2.5 .4-.9-.2 4.2 .4-2.1-.2 2.2 .3 .7 0-1.1 .3 3.2-.2 2.3 .3-1.7-.4 2.9 .4 1.8-.7-.1 .4 .2 .1 .4 .2 .5-.3 4.4 .1 1 .1 .5-.1 1.7 0 .5 .2 .3-.3 1.8 .7-1.7 .1 2.3-.3-.3 .3 2.6-.4 .6 .1 1.9 .2-.5-.4-.9 .2 4.4 .2 0 0 2.4-.2-1 .1 2.8 .3-.5 .3 2.7-.6-1.2 .2 .8 .2 1.2 0-1.6-.2 2.7 .1 3 .3-.3-.4 2.5-.1 1 .2-.7 .1 2.4-.3 .1 .7-.4-.5 3.1 .4 2.7-.2-.5 .3 2.5 0 2.1-.1-1.4 .2 .2 .2 2-.3 1.5 .1 .4-.1 1.7 .2-.1 .2 .7 0 3.5 .1-1.8 .2 2.8 .4 1-.3 2-.3 1.5 .4-2.6 .8-1 .4-1.9 .2-1.9-.2-2.1 .5 1.9 .3-1.2 .3-1 .2-2.5 .2-.1 .9-.4-.2-3.3 .2-.1-.1-.3 .3-.9 .4-1.1-.6-.7 .6-3-.2-.2 .2-1.9 0 .2 .4-.9 0 .3-.3-1.7 .7-.1 0-.1 0-2 .2-1.6 .3-1.6-.4 .1-.2-1.6 .3-2.1 0 2.6 .3-1.8 .2-2.8 .2-3.5-.1 2.9 .1-2.2-.1-.5 .4-1.5 0-1.8 .2-.4-.2-2.4 .5-.7-.6-.1 .9-.6-.6 2.5 .4-.1 .3 3.5-.3-.4-.1 3.3 .4 1.3 .3-.7-.4 1 .2-1.4 .4 2.7 .1-2.3 .1 4-.2 2 .1 .9-.1-.3 0 1.6-.1-.8 .5 2.8-.3 1.1 .2 1.9 .5-2.2 .3 .7-.6 3.4 .1-1.8 .5 4.8-.6 .7 .4 .1 .1 1.8-.3 1.1 .7-.2 0-.2 0 5.1 .2-2.2-.2-.5 .3 2.4-.2 3.3 .3 2.4-.4-1.2 .2 3.8 .1-.5-.2-.6 .3 1 0 2.4 0-1.7 .3 2.1-.1 2.2 .2 1.2 0 2.5 .2-.4-.2 1.9 .2-.8 .4-1.5-.2 4.1 .4 4.7 .2 .5-.6-.5 .6 1.3 0-2.2 .3 2.4-.2 .7 .1 1.6 .4 .2 .1-.9-.2-.2 .3 1.5 .1 3.5 .2 2 .2-.1 0 .7 0 2.4 0 1.5-.1-.4 .9 .2 0 1.8-.3-.9 .5 2.7-.5 2 .5 .9 .3 .6-.4 .3 .2-.1 .4 .4 0 4 0-.6 .4-.6 0 2 .3 .7 .2 .7 .1 1.5 .1 .9 0 2.6 .2 3 .2-1.5-.2 .3 .3 1.9-.3 3.3 .8-.7-.1 .6-.2 3 .6-.2-.5-.1 .6-1.9 .5 .2-.6 .8 .7-.9-.1-.2 .2-3.4 .3 .8 .1-.3-.2-3.5 0 1.2 .4-3 .1-2.3 .8-.3-.5-.8 .5-.8-.2-2 .4-2.4 .3 1.4 .4-2.5-.4 1.1 .1-1.9 .4-2.3-.2-.6 .3 .4 .1-1.8 .5-1.2-.3 .8 .6-1.8 .2-1.5-.1-.3 .2-3.8 .1 1.1 .1-.2 .2-2-.2-.6 .3-.1-.4 2.2 .8-1.5 .5 2.8-.6-.3 .2 1.7 .4 3.7 0-1.2-.2 .2 .2 2.4 .2 .2-.2 1.7-.1 1 .4 2.1 .4 1.1-.4-.6 .3 1.6 .1 .9-.5 1.8 0-.1 .5 1.1 .2 2.1 .3 .6-.4 1.6 .4-.3 0 3.5 .2-2.6 .1-.3 .1-1.4 .1-2.2 .2 .1 .4-.8-.5-.4 .5-3.2 .6-.7 .3 2.3 0-1.4 .2-3.3 .2-3.9 .1 .8-.2-1.7 .4-.8 .1 .3 .3 1.4-.1-.7 0 0 .1 3.7 .3 3 0 .4 .3 .8-.3 .1 .6-.1-.4 1.1-.2 .5 .5 1.1-.1 1 .3 2.1 0 .4 .2 .1-.1 .8 0 2.3 .6-.2-.7 3.9 .2 .2 0 1 .5 1.4 .2 2.4 .1-1.1-.2 .3-.3 .8 0 2.3 .7 .4-.4 1.3 .6 .1 .3 2.9-.2-2 .1 1.8-.1-.2 0 3.5 0 .5 0 .6 .4-3 .7-.8-.5-.3 .4-.4 0-1.2-.1-.8 .3-3 .4-1.5 .3 2.6-.1-1.8-.2-2.6 .1 0 .4-1 .2-.4 0-1.7 .2-3.4 .4 1.2-.3 .5 .5-3.4 .6-1.1-.8-.1 .8-1.8-.1-2.8 .4-1-.4 .1 .1-.1 .1-.4 .2 6.3-.2-.3 .2 1.3 .5-.3-.5 2.1 .3 2.7 .1 .3 .2 1.6 0-.7 0 .5-.2 3.3 .2-1.5 .4 .9 .3-.4-.6 4.5 .1 .3 .3 1.4 .1 1.2-.2 2.5 .1 0 .1-.1 .1 .6 0-.1-.2 .9 .2 .9-.1 1.7 .1 1 .4 .4 .1 3.2-.1-.3-.2 2.8 0 1.3 .5-1 .4 .9-.3-.2 .1-.2 .3-2.9 .2 1.2 .2-3.6-.2-.8 .5 1-.7-3.8 .4 1.5-.6-2.1 .7-.4 .7-4.5-.6-1.9 .3 1.7-.1 .8 .1-2.5-.1-2.9 .2 3.3 .7-2.1-.3 0 0-1.1 .4-3 .2-.4-.4-1.3 .2-.3-.1-1.6 .4-.5 0 1 .2-4.7-.1 2.8 .1-3.6 .1-4.3-.2 1.2 .3 .6 .1-3.4 .7 1.2-.3 .5 0-2.8 0 .3 .4-1.3-.2-2.7 .2 .2 0-1.4 .6-1-.7 .7 .5-2.1-.3-1.3 .5-1.4 .1-1.7-.3-3.4 .5 1.4-.1-.6 .5-.5-.2 0 .3-2.3 .1 1.8-.3 .3 .1 1.3 .5 2.3 0-2.7 .2 4.2-.3-.3 .5 2.4-.4 .4 .4-1.2-.1 1.2 .4 2.6-.2-1.5 .2 4.3 .2 0-.3-.2 .7 2-.2 2.5 0 1.5-.2-1.6 .6 2-.1 1.5 .4 .2-.5 1.2 .3 2.8 .2 .3 .2 1.6 0 1.4 0-.9 0 1.8 .2 1.5 0-1 .7 1.3-.3 2.2 .5-.7-.4 1.3 .4 .9-.3 1.7 0 1.2 .3-.4 .4-1.7-.4 6.2-.1-.1 .5 1.1-.2 1.7 .2-.4 .8 1-.5 1.1 .3 .6 .2 4.7-.4 .8 .3 .4 .3 1.1-.5 .2 .4 .2 .2-.9-.3-.2 .5-3 0-.3 .2-1.2 0 .2-.3-1.6 .2-4.7-.1 1.5 .6-.2-.1-1.3 .5-1.6-.1-.2 .1-1.8 .1 .7-.2-2.3 .2-.9 .4-2.8-.5-.6 .9-1-.6-.3 .6-2 0 .6 .1-1.3 .1 1-.3-2.5 .7-.7-.5-.7 .7-1.5-.1-2.1 .3 .9-.7-3.9 .7 .5-.1-1.4 .4-1.2-.1-3.3-.2-.5 .1-1.2 .3 .7 0 1.8 .2-2 .4-1.4-.2-1.3 0-1.4 .4-1-.2-1 .3-1 .1-1.6 0 .7-.1 4-.2-.5 .3 1.5-.2 1.4 .6 .7-.4 .8 .1-1.2 .2 2.8-.3-.6 0 .6 .3 1.8 .1 4-.4 1.3 .6 1.2 0-.3 .3 .9-.8 1.2 .8-2.1 0 2.2-.4 1 .3 1-.2 1.7 .3 1.7-.3-.6 .2-.8-.1 3 .2 .8 .2 1.7 0 2.2-.3 1.8 .4 .6-.2-1.1 .2 2.2-.1-.8 .3 3.9 .2 .1-.3-.4 0 2.8 .2-1-.6 3.8 .3 0 0 .2 .2 4.3 0-1.2 .1-.9 .5 1.9 0 1.4-.2-.5-.4 1.3 .4 6.1-.1-1.6-.1-.9 .2 2.5 .2 0 0-.7 .1 1.8 0 1 .2 2.1 .1-.1-.3 .3 .2 2.1-.3-1.8 .5 2.9 .3 1-.3-.3 .1 3.5 .3 1.4 .1-.1-.1 2.9-.1-2.5 .1 1.8 .2 2.8 .4 4.1-.1-2.7 .3 3.4 .2-1.4 .4 1-.3 .9-.1 2.4 .5 .5-.1 1.7 .5 1.2-.2 1.6-.3 .5 .4 .6 .1 1.7 0 .8 .2 1.6 .4 0 0 .4 .5 2.5-.5-2 .5 3.1 0 .3 .6 1.1-.7 1.1 .1-.6 .3 4 .4 2.7 .1-.4 .2 1.2-.2-3.2 .3-1.1-.2-.7 .8-1.4-.5 2.3 .3-2.2 .2-2.8 .4-.6-.4-.3 .2-4.5 0 2.2 .4 0-.1-4 .3 .7 0-.7 0-1.5 0-.8 .2-.1 .1-.9 .3-1.1 .2-.5-.1-.8 .1-2.1 .2-2.8 .3 1.3 0-2.7-.4 .5 .5-1.1 0-.5-.5-3.9 .4 2.7 .4-.8-.5-2.4 .3 .2 .1-1.7 .2-.7-.5-3.8 .3 .1 0 .1 .6-1.9-.2 .7-.4-.9 .2-2.4-.1-2.6-.1 0 .6 1.8-.1 .3 .4 1.9-.3 1 .9-1.4-.4 1.4 .1-.2 .5 1.9-.3-1 .3 3.2 .2 1.2 .3 .1 .1 4.1 .4-.1-.3 1.9 .2 0 .6 1.4-.3-1.8-.2-.2 .5-1.5-.5 .8 .4-1 .2-.3 0 .1-.2-3.7 .4-3 .1 .7-.5-.7 .3-1.8 .3-.6 0 .7-.3-4.8 .1-2.2 .3-.3 .2 .4-.2 1 .1-.5 .6-1.5 0-3 .1 1.6 .6-1.7 0-2 .3-1.6 .6 1 0-.9 .6-1.1 .1-.4 .8-1.1-.2 .2 0-4.2 .5 .6-.2-1.3 .6 .1-.3-2.3 .2 .1-.1-.5 .1-2 .1-2.5 .3-1.1 0-1-.2-1.6 .1 1.5 .5 .2-.2-5.6 .2-.1-.1-.5 .1 1-.1-.8 .5-3-.5-1 .5-.9-.4-1 .4 0-.2-1.7 .6-1.5-.1-.9-.3-.9 0-3.3-.1 .9-.2-1 .3-2.3 1.1 .1 1 .2 1.6-1 .6-1.2-.2 1.9 .4 .4-.2 3.2 .1 4.5-.4-.3 .5 .4 0-1-.7 0 0 1.6-.1 2-.2 .7 .6 .8-.2 .7-.3 2.6 .2-1.4-.1 2.2 .3-.2-.4 .5 .2 2.2-.3-1.1 .2 1.9 .2-1.6 .2-2.7 .2-1.3 .1-3.9-.1 1.3 .8-.8-.2 1.7-.1-2.1 .1 0 .4-3.4-.2-1.9-.1 1.7 .5-2.1-.2-.9 .4-1.6 .4 1.5 .1-3.6-.1 0 .1-1.8 0-2.9 .6 1.5-.3 .8-.5-1.9 .3-2.4 0-.1 .2-3 .4 .1 .3-2.2-.6-.1 .3-.5 .1-.3 .2 .9 0-3.9-.4-.2 .1-2.6 .4-3.6 .1 1-.2-.8 .3 .6-.4-1 .4 1.2 .2-1.3-.2-1.1 .1-2.1 .1-3.8-.1-1.2 .1-1.1 .5-.4-.4 0-.2-2 .1-.3-.1-1.3 .2 .4 .2-2.5-.1-1.5-.1-.8 0-.6 .3-2.1-.4-.2 .4-.8 .1 0 .1-.9-.3-1.9 .1 .1 .3-1.4 .2 0-.4-2.7-.2 .1 .5-3-.3-.8 .4 .8-.2-.3 0-2.3-.3-.6 .6-2.1-.1-1.5 .1 0-.3-1.4 .1 2.5-.2-.9 .4-3 .5 .6-.6-1.6 .1-3.4 .2-1.3-.1-1.5 .5 1.7-.5-4.3 .5-.2 .2 1.3 0 2-.3-.2 .2 3-.1-1.9 .3 2.6 .3 .5 0 1.9-.2 1.5-.2 .3 .5 2.3-.2 1.5 .1-1.2 .2 1.2-.2 2.6 .5-.2 .4 2.3-.6 1 .1-.9 .3 1.8-.1 1 .1 1 .2 1.9-.2-.4 .3 3.4 .1-.3 0 2.2 .1 .2-.1 1.3 .5-1.4-.1 .1 .2-1.8 0-.7-.5-3.2 .3 .7-.2-2 0 1.1 0-2.1 .8-1.6-.5 1.9 .5-4.3-.8-1.8 .2 .2 .6-2.8-.5-.7 .2 .2 .1 .5 .3 0 0-.4-.1-3-.4-1.6 .6-2.6-.4-3 .2-.3 .2-.5-.2 .2-.3-1.4 .2 0 .4-1.2 .1 .6-.4 0 .7-1.7-.6-1.5 .2-1.2 .5-2.4-.4-.8 .9-1.6-.1-1.4 .2 0-.3-1.2 .1-1.6 .4 2.8 .4-3.5-.1-.6 .2-.9 .5-.4-.3-2.6 .5-1.4 0-.4-.3-.2 .6-1.7-.1-.2-.2-2.3 .2-2-.2-.4 .2 .7 .4-1.7-.4-2.1 .5 .5 .3-2.1-.4 .1-.1-1.8 .8-1.5-.1-1.9-.1-2 .5 1.6-.1-.8-.6 .6 1-4.7-.2 2.9 0-2.7-.1-1.6 .2-1.2 .2-.2 .2-.5 .3-3.2-.1-3.7 0 1.7 0 1.7 .3-3.9 .5 0 .1-1-.1-2.1 0-.3 .3-.8 .1-.3 .2-2.3 .1-1.2 0 1.1 .5 2-.2 .6 0-.1 0 1.5 .3 0 0 2.1 .1 .4 0 1 .3 2.1-.2 2-.1 1.9 .6-.4-.2 3.6 0-1.4 .1-.8-.1 1.5 .1 3.1 .4 2.2-.2 .1-.3-.6 .5 1.5-.1 1.3-.1 1.2 .5-2.1-.7 4 .7 2.2-.2-.4 .5-.4-.1 .9 .5 1.7-.6 2.5 .1-.2 .2-.4 .3 3.5 .1 1.2 .2-.2 .6 1-.2 3.3-.4 .2 1.2-.1-.2-.1-.1 3 .1-.1 .3 1.9 .4 2.1 .5-.5-.5 .2 .1 .9 .3 .7-.2 2.5 .4-1.4 .4 1.7 .4 .6-.2 1.1 .5 1.8-.2-.5 .1-1.8 0-.2-.2-1.2 .7-1.7-.2 1.1 .5-4.6 .3 .3-.3-.9 .2-1.2-.4 1 .9-.2-.8-2.6 .3-.9-.1-3 0 .4 .5 .4 .3-2 0-2.2-.2-1.9 .1 1.1 .3-1.3 .3 .9-.3-1.7 .5-3.5-.7 2.2 .5-1.2 .2-1.3 0-2.1 .4-1.2-.3-1.3 .3 0 .7 .8 .9 2 .5-.4 .3 .9 1-.6 .8 1.1 .3 3.9 .4-.6-.5 0 .3 2.2 .1 1-.3-.5 .2 .1-.2 2.8 0-.3 .5 3.6-.4-.3 .2-.9-.1 1.7 .6 .9-.2 1.3 0-1.4-.1 2.5 .2 .1 0 1.1 .1 .3-.1 3.8-.1 1.2 .5 1.3 .1 0-.1 .1 0 3.8 .3-1.5-.2 2.2-.3-1.4 .7 .6-.4 3.1 .5 2.6-.2-.8 0-.5-.4 4.7 .2 0 .2 .5 .2 1.4 .1 1.3 0 1.8-.2-.8-.2 .8 .3 3.8-.5-.4 .6 .2-.2 .8 0 3 .1-.6 .3 .7-.3 1.9 0 .2 0 3.2-.2 .4 .5 .4-.1 2 .1 .5 .4 1.5-.6 .1 .1 1.2 .3 1.1-.3 .5-.9 1.8 .2 1 .3 1.3-.3 .3 .2 1.1 .4 .8-.4 2.3 .7 1.4-.2 1.4 .4-.3-.7 .4 .5 1.3-.3-.3 .4 4.3-.1 .6 .2-1.9-.1 3.6 .2-1.9 .1 1.9 0 .4 .3 1.5 .1 2-.6 1 .6-1.2 .1 3.7-.5 .6 .5 .5-.1 3 0-.7 .4 2.4 .1-2-.5 1.2 .2 .3 .8 5.4-.7-1.9 .3 1.8-.4 .5 .3 .9 .2-.6-.4 .8 .7 4.6-.1 1.9 0-.9 .2-.7-.2 2.4 .1-1.1 .4 4.6-.3 1.1 .2 .2 .2 .8-.7-.1 .4-1.4 .5 1.6-.1 4 .1 1.3 0 .7 .5 .2-.2 .9 .3 2.7 0-.3 0-.2 .1 2.3 .2 1.2-.2-2.2 .2 3.2 .1 .4 .2 3.9 0-.8 .3-.2 .2 .9 0 3.2 0 1.8 .1-2.1-.2 3 .6-.7 .2 2.5-.2 1.7 .3 1-.1 .4 0 1.2 0 3.6 0-2.9 .2 2.9 .2 .6-.2 1 .2 .7 .4 2.2-.3-1.5 .6 2.5-.3 1.7-.4 1.6 .4-.8 .4-.1 0 2.2 .2 .9-.2 2.1 0 1.5 0 2.1-.3-.9 .2 1-.3 .2-.1 3.2 .4-.7-.1-2.2 .4 4.5 .1 3.9 .3-2.7 .7 2.2-.1-1.5 0 3.9 0-.2 .5 2.1-.1 1.1 0 1.6 .3 .8 0 1.7 .1-.3-.5-1.3 .5 4.1-.1-1.3 .2 1.5 .2 .4 .5-.3-.2 1.3-.7 3.2 .5-.6-.1 2.4 .2 1.1 .1-.4-.1 4.7 .3-1.8 .2 3.1-.2-.8 .1 1.5 .3 1.4-.1 1.4 .5 .2 .1-.5-.3 3 .4-.2-.1 3.1-.5 2.7 .4-.9 .2-.5 .1 2.1-.3 .5 .5 1.7 .2 3.2-.4-.9 .2 3.7 .4-1.2 .2 .7-.3-.9 0 1.8 .7 .4-.2 1.8 .1 .3-.1 1.4 0 2.1 .4 2-.2-3.1 .3 2.9 .6 3.4 0 2.1-.2 .4 .1 .8-.1-.7 .6 .6-.3 .7 .6 2.1 0 .2-.4 2.1-.2 .1 .5-.5 0 .8-.6 2.5 .8 .4-.3 1.5-.4 .3 1.1-.3-.9 2.4-.2 1.8 .8 2.8-.3-1 .1 .2-.2 .9 .1 3.6-.4-.2 .6-.9-.3 3.1 0 2.5 0-.9 .1 1.2 .2 4.3-.2-.7-.1-.7 .2-.9-.3 .8 0 1.7 .8 4.1 .3-.9-1 2.5 .4 .6 .2-1.2 .2 3.9-.1-1.3 .4 1.2-.4 1.9-.2 .3 .7 .9-.1-.4 .2 2.9 .1 .3 .4 4.2-.5-2 .1 1.9 .2 .3 .2 5-.5-1.9 .3 2.3 .3-.5 0 2.2 .1 .5-.5 .5 0 1.5 .5 2.7-.1-2.1-.1 3.3 0 1.1 .2 .5-.2 1.5 .4-.8 .1 1.3-.4 1.1 .4 2.6-.1 1.5 .5-.2 .1-1-.3 3.2 .2 1.1 0 0-.5 .5 .5 2.3 .2 2 .1 1.4 .1-1.1-.3 5.1 .3-2.7 .2 2.6-.5 2.3 .5 0-.3 1.8 1-.7 1 0 .7-1.7 .4-.9-.8-1.4 .6-1.5 .6-1.4-.4 1.1 .8-.7-.7-2.9 .2-1.1-.3 1.1-.2-1 .4-3.8-.3 2.2-.3-2.7 .1 1.8 .3-4.1 0 .8 0-2 0-.2 0-1.6 .3-2.8-.6-1 .3-.7-.3 .7 .3-3.1-.2 .4 .2-2.5-.4-.2 .7-1.6-.1-1.5 .1-1.7-.4 2.7 .2-2.7 0-2.3 0 1.7-.1-1.3-.2-.2 .2-.1-.4-3.1 .4-1.7-.4 .8 .3-2.1 .2-2.7 .2-1 0-3.4-.6-.7 .4 2.1-.1-.6 .1-2.3 0-.2 0-1.2 0-.2-.3-3.7 .6 .8-.1 .7-.2-3.1 .3 .8 .1-.2-.4-2.4 .7-1.9 0-1.2 .1-2.3 0 4.1-.5-2.5 .2-2.6-.3-.5 .7-2.2 0-.1-.4 .1 .4-3.4 0 0 .3-1.8 .2 .4 0-1.7-.3-.8-.1-1 .5-1.2-.1 0 .1-3.2 .2-2.6 .2 4.3-.1-3.6 0 1.3 .4-2.6-.1-2.3 .1-2.6 .6 2.2-.1-2 0-.5 .3-1.6-.3-.3 .4-1.9-.3-1.7 .1-.9 .3 1-.2-2.2 .3 .5 .2 .3-.4-3.6 .1-1.9 0 .1-.5 .2-.1-2.6 .2-2.8-.2-1.1 .4-2.2-.1 .1-.8-1.7 .7-.6-.2-.9 .3-1.6-.1 .7 .1-1.4-.4-.7 .2-1.8-.3-1.6 .5 .2 .1-1.2-.5 1.2 .1-2 .3-2.4 .2-3.6 0 2.2 .3-.2-.1-2.1-.1 .9-.1-4.4-.3-.2 .5-.5-.2-1.1 0 1.1 .2-3.3 .1 .8 .5 .1 1 2.1 .6-2.4 1-1 .3 4.1 .1-.4 .2 .1-.5 2.2 .7 2-.4-.2 .2 4.5 0-.9-.2 2.1-.1 .3 0-1.1 .5 3.4 .2 1.6-.2 .4 .1 1.2-.2-.7 .1 1.6 0 .5 .1 2.1 .2 1.8 0 1.2 .2 1.4-.5 .9 .4 3.1 0 .3-.4-.7 .2 1-.4-.1 .3 1.1 .4-3.7-.2 .3 .3-1.4 .1-.9-.1-.2 .6-3.8-.6-.3 .4 .6 .4-2.2-.2-3.5-.1 1.1-.1 0-.2-.7 .8-1.8-.1-4-.4-1.4 .2 2.7-.2-1.7 .3-.7-.2-1.6 .5-.2 .1 .5 .2-.1 .2-6.2-.6 .9 .5 .2-.4-3.2 .2 1.2 .2 .5-.3-3 0-.2 .2-3.1 .7 2.1-.4-2.5 .4-.3 .3-2.7-.2-.8-.2-3.7 .6 .3-.7-.1 .2 2-.1-2.6 .4-.6 0-2.2 0-1.7 .5-2.3-.5 1.5 .4-2.9 0 2.7 0-3.1 .1-1 .4 .1 .2-1.4-.4-2.1-.3 2.6 0-5.6 .4 0 .1 .1 .8-2.1 .8-2.6 .3-.6 .3-1.1 .4-1 .2-.6 .6 1.8 .2-.5 .9 2.2 0-.8 .7 2.6-.1 1.8 .9 .4 .1 1 .5-.8 1 1.5 1.3 2.8 .8-1.6 1 .5 1.2 3 0-.3 .6 .4 .5 .4-.1 1.5-.1 3.7 1-1.1 .7 2 .4 1.9 .1-.2 .3 1.6 0-3.7 .4 .6 .3-2.8-.5 .2 .7-.4-.1-.8 .4-2.6-.1-.2-.1-1.6 .3-3 .4 2.1 .3-2.3-.4-.8 .7 .5-.5-2.3-.1-1 1-.8-.3-.7 .2-.4 .1-.1 .2 .2 0-3 .5-3.4-.2 .3 .3-.3 .2-2.2 .4-.2 0 .3-.1-3.1 .1-.2 .3-1.5 .3-1.1 .5 .4 0-.8 .2-3.3-.4 1.2 .3 1.2 .7-6.5-.4 .4 .6-1.3-.2-.1 0 .4 .3-3.1 .4-1.5-.3-.6-.1-1.1 .6-.3 0-.2-.1-1.1 .4-1.5 .2-2.7 0 .2 .6-1.5-.6-.5 .4-2-.2-.5 .6-1.5 .1-.1-.4-.9 .4 .1 0-2.6 .4-1.8 0-.6-.1 2 .1 1.4 0-.8 .3 .5-.2 3.1 .3 1.7-.2 1.6 0 0 .6-.1-.4-1 .5 3.5-.6 .2 .6-.4 .2 4.1 .2-.3-.1 1.3 .3 1.1-.8 .6 .6 1.2-.2 1.8 0 .6 .4 .9 .4 1.5-.1-1.6-.3 3.3 .3 1.2 .3-.2 .1 4.2 .1 .6 .1-.3-.1-.2 .4 2.5-.3 .3 .1 1.7 .3 .8 .1-.2-.2 2.1 0-.7 .5 2 0-1-.3 3 .4 2.5-.2 .9 .5-.9 0 3.5-.1-.2 .4-1.2 .1 2.3 .1 .6 0 .9-.2 3.6 .2 1.2 .2-1.2-.2 .2 .2-1.7 .2-1.9 0 .7 .1 0 .5-3.1-.3 .9 0-1.5 .3-2.4-.1 0 .2-2.3 0-.7 1-2.6-.9 .3 .2 .2 .8-4-.5 1.9 .4-3 .1 2.2-.3-1.8 .5-4.2 .1 1.4 .4-1.5 .1-2.2-.2 .7 .3-1.4-.1-.6 .4-1.9 .1-.9 .1-.8 .4-1.8-.2-1.5 0-1.4 .4 .5 .2-1.3 .2-1.1 .2 3.3 .6-.8-.5 1.6 .7 2-.1 .7 .4-1.2 .1 2.1 .8-.3 0 .7-.1 .6 .6 1.9 .5-.4 .2 3.3-.2 .1 .5-.8 0-1 .2-2 .2-.2 .3 1.4 .1-1.8 .1-2 .1-1.7 .8-3.1 0-.4-.1 .3 .2 .5 .2-1 .5-.3 .3-1.9 .2-.7-.5-1.7 .5-.8 0-1.7-.1-1.1 .3 1.4-.1-3.7 .5-1.5 .2 1.6-.2-2.9 .3-2 .1 1.1 .6 .5-.7-2.3 .5-.3 .4-1.3-.1-3.2 0-.2 .2-.1 .6-2.1 .1-.6 0-1.3-.1-1.9-.4 1 .5-1.1 .2-.4-.2-2.2 .2 2.2 .1-4 .3-1.9 .3-2.5 0-.2-.1-3.1 .1 .6 .3-1-.2 .3 .5-3.5 .1 .2-.1 .8 0-3.3 .5-.9 0-2.2-.2-1.1 0-1 .4 .2 .2-.8 0 1.8 0-3.7 .1-.5 .5 .6 0 .5 0-6.2 0 1.4 .5-1.8-.4-.3-.3-1.7 .6-.6 .1-.9 .3-2.1 0 3.2 .2-4.6 .5 .6-.1 1.1 .2 .4 .2 .5 .1-.7 .6 4.6 .1-1.1 .5 .7-.3 1.5 .3 2-.2-.3-.1 1.6 .8 0 .1 2.8-.3 0 .1 1 .2 2.9 0 1.6 .6 .1-.4-.6-.1 .7 .3 1.3 .2 4.1 .4-3.2-.1 3.4 .2 1 0 0 .5 1.6-.3 2.7 .2-3.8 .1-.3-.1-.7-.2-.2 .7-2.4-.2-1.6 0 .6-.5 .3-.1-1.1 .6-2.1 .2-.2-.3-3.1 0-.7 0-1.7 .5 1.1 .1-.8-.5-1.8 .3-2.1 .3 .6 0-2.8-.1-1.1 .3 .7-.3-2.3-.1-.2 .3-1.2-.2-3.1 .2 3.1-.4-3.3 .6-2.1 0 .6-.2-.6-.1 .3 .2-1.9 .4-4 .1-.2 0 1 0-2.7 .5-.8 .1 .1-.4-.8 .5-.7 0-2.3-.3-1.6 .6-.9-.6-1.3 .8-1.7 .2 0-.4-1.9 0-1.6 .2 .6 .1-1.7-.1-2.2-.2-1.7 .1-1 .6 2.5-.4-.4-.1-1.6 .4-2.6 0-2.8-.5 1.1 .4-4 .2 .8 .1-1.6-.2 .3 .3 1.2 .4-1.4-.4-2.6 0-3 .7 1-.5-.2-.2-3 0-2.3 .4 1-.1-1.7 .3-1-.3 .7 0-1.8 .8-1.3-.3-.5 .2-.2-.5-1.8 .5 .4 .1-2.6-.2-.8 .2 1.4-.2-2.2 .4-1.5-.4-.8 .2-1 .1-1.1-.1-4.1 .1 .3 1.2-1.9-.3 1.3-.2-.6 1-1-.3-1.1 .4-.1 .4-2.5 .7-1.1 .2-.9-.5-.2 .4 .7 .4 2.7-.4 2.8 .8-2-.4-.5-.2 3.6 .1-.5 .4 1.5 .1 .6-.1-.1 .6 2.2-.3 .8 .1 2.6 .1 1.4 .1 1-.2-1.5 .7 1.9-.4 3-.1 2.4 .6-2.6 0-.9 .1 2.7 0-.4 0 3.2 .1 1.8 0 .4 .1-1.2 0 2.6-.1-1.5 .4 4.2 .4-.5-.5 1.3 .2 .7 .1 1.3 .4 1.3-.1 .4 .3 1.3 .1 .4-.1 3.2 .1-1 0-.6 .2 1.2 .2 2.1 .1 1.9 0 1.1 .2-.3 .2 3.5 0-1.4 .1-.1-.2 2.4 .2 .8-.1 1.8 .4 1.3 0 1.7 .6 .6-.3 2.1 .1-1.6-.6 2.6 .7 .6 .1 1.1 .4 .8-.3 1.6 .6 .4-.5 .1 .2 2.1 .4-.6-.2 0 0-2 .3-1.6-.4-2.5 .1-.4 .5-1.2-.1-2.9-.1-.5-.1 .1 .3-1.8-.4-3.1 .8 1.5-.3 2.5 .1-3.2 .3-.1 0-2.5 .2-.3-.2-1.3-.2-1.6 .5 .2-.1 .4-.2-2.6 .2-2.3 .2 .4 0-3.8-.1 .6 .4-.2-.4-2 .5-.4 .3-.8-.5-.4 .1-.1 .3-.8-.2-.3 .4-1.4 .1-3.2 0 2.3-.1-3.8 .2 .7-.2-.3-.1-1 .3-2.8 .4-1.9-.1-1.5 .2 1.9-.3-2.9 .2-3.6 .2 1.8 .3-.9-1-.4 .8-2.8 0-1-.3 2.6 .2-.3 0-5.3-.1 .6 0 .3 .4-2.8-.3-1.6 .3-.9 .2 1.2-.3-.2 0-5.1-.1-.7 .2-1.1 .3-.3 0-2 0-.1-.4 .7 .1 0 .4-2.2-.5-.7 .6-1.9-.2-1.6 .4-1-.6-1.7 .2-1.9 .2-.2-.4-.6 .5-2.7-.4 1.3-.2-.1 .7 1 0-5.3-.2-.3 .1-1.2-.1-.7 .3-1.6-.4 .2 .7-1.9 .1 .3-.6-3.2-.2-2.7 .3 .7 .1-1.4 .3 0-.6 .3 .4 .5 .1-3.7-.3-1 .2 1.4 .2-2.9 0 1.2 0-3.5 0 .7-.1-1.1-.3-1.9 .2-2 .6-.5-.7-3.6 .3-.1-.1 1.8 .5-2.6-.2 0-.3-.1 .1-1.5 .2-2.4-.3 .1 .4-2.2 0-.2-.3-1.4 .4 .3 0-5.1 0 .3-.2 2.3 .1-3.2 .1-.3 0-2.7 .1 1.4 .1-.6 0-2.7-.5-.2 .3-1.4 .3-.4-.4-1 .1 1.5 .2-4-.3-1.4 .4-1.9-.2-1.3 0-.3 .2 .8 .3 2.6-.4 .4 .4-.6 .5-.8-.1 3.6-.1 0 .5 1.6 .1 1.5-.5 2.3 .9 .5-.1 .5-.2 1.3 .4 4 .1 0 .5 1.6 .1 .9 .2 .4-.1 .5-.1 1.3 .5-3.1-.3 3.2-.1 1.1 .4 .3 .1 2.1 0 1-.3 2 .1-1.6 .1 2 0 4.3 0-.1-.1 .9 .4 1.4-.3-.6 .2 3.1-.4 1.4 1-2.2-.4 3.8 .2 .8-.1-.7-.3-.5 .5 2.2-.4 1.4 .3 2 0 1.2 .3-.2-.5 2.6 .6-1.5-.2 2 .2-.3-.1 2.1-.1 1.5 .2 1.2 0 1.5-.2-1.3 .5 1.6 0 .7 0 3-.2 3.1 .3-.7 0 .6 .2 .2-.8 1.3 .5 2.1-.1-1.1 .4 1.1-.2 1.8-.2 .8 .1 .1-.1 1.3 .5 .9-.2 2-.1 1.2 .3-.9-.1 4.8 .5 .1-.4-1.6-.2 1.3 .1-.5-.4 3.1 .3 .9 .3 0 0 4 .1 1.1-.1-.3-.2 2.3-.2-.4 .2-1.6 .3 3.7 .2 1 0-1.5-.1 2.5-.3 3.1 .3-1.1-.2 1.3 0 1 .1 1.4-.2 3 .3 .3-.2 2 .7-3.3-.4-2-.1-1 .7 1-.5-2.1 .4-2.9 .1-.6-.2-3.2 .3 2 0-4.4 0 1.6 0-.8 .3-.4 0-4.9 0 2.8-.1 .5 .5 .3 .5-3.6-.1 2.6-.3-1.8 .3 2.2-.4 .9 .4 2.4 0 .4-.1 .2 .3 1.7 .3-1.8 .2 2.3-.4 2.5 .4 .2-.1 1.1 .5 1 .2 2.4-.8 .9 .6-.4 .6-2.6-.3 4.6 .2 1.4 .3 .4 0 3.4 0-1.2 .2 2.2 .1-.7 0 2.3 0-.1 .1-1.2 0 2.2 .1-.5 .1-.4 0-1.6 .2-.6-.2-.2-.3-2.4 .5-1.9 .3-.9-.4 0 0-.8 .2-1.5 .1-2.2-.2 .3 .3 .8-.2-.4-.1-3.7-.1-2.3 .3 2.6 0-1.7 .6-1.6-.6-3.2 .1 .7 .5 .1-.1-.4 .1-2.1-.5-2.2 .3-.6-.1 .9 0-.5-.1-3.9 .1-.3 .3-.6-.4-1.6 .6-1.3 .1-2.7-.3 .7 .3-.3-.3-1 .1-.1 .4-1.2 .2 .1-.3-1 0-2.6 .7-.6-.8-.7-.1 .1 .1-1.3 .3-3.7-.2-.8 .3 .2-.1 .2 .4-4.6 .1-.1-.4-3.4 .8 1.3-.9-2 .8-.3-.5 1.7-.1-2.9 .3-1.9 .5 .3-.3 1.8 .2-2.1 .4-2.2 0-.7-.1-1.4-.2-.9 0-2.4 .1-.6-.1-1.3 .2 .3 0-1.8 .2 2.6 .2 1.6 .6 1.4 .2-1.4-.1 2.3 .5-.3 .1 .7 .4 1.2 .5 2 .6-.1 0 .7-.5 1.2 .3 .7-.2 2.8 .5-.6 .3 2.2 0 1.6 .4-.2-.1 3.1-.1-.3 .4 3.1-.4-.2 1.1 .6-.5 0 .1 2.8 .6 .7-.5-1.6 .4 2.6 0 .6 .3 1.1-.1 .3 0 1.6-.2 1.5 .6 1.4 .5-1.1 .3 .4-.2 1.4 .2 1.9-.1 1.1-.6 .9 .6 1.9 .3 1.3-.6-.3 .2 1.8 .2 .8 .4 .1 .2 1.6-.1 1.6-.3 .5 0 .6 .2 2.1-.3-.5 0 .8 .2 .9 .1 2.9 .3 0 .2 1.5 .1 2.1 .2-.1-.4 1.6 0 2.6 .6 .2-.2 .3 .2 .8-.1 1.1-.4 1.6 .4 .7 .2 3 .2-1.7-.4 .6 .5 1 .1 2.8-.2 .4 .3 .8 .1 .5-.3 0 .2 2.7-.2 .7 0-1.5 .1 1.5-.1 4 .2 1.1 .1-1.4-.3 2.6 .3-.9 0 2.7 .2 1.2 .1 .5-.2 2.4-.1 .3 .2-.5-.1 2.4 .4-1.2-.7 4.9 .6-2.1-.2 2 .5 1.2 0 .2-.4 1.3 .1 .2 .5 3.1-.6 .3 .3-.1 .1-1.1-.2 3.1 .2 .8 .3 3.7-.1 .5 .2-1.7-.6 1 .4 2.7 .2 .6 0-1.4-.1 .7 .2-2.5-.1-.2 0-1.5 .4-1.3-.2-2 0-2.1 .3 .6-.1-1.9 .2-1.1 .1 .4-.4-1.2 .1-1.5 .3-1.2-.1 1 .3-2.6 .4-3.1-.1-1 0 2.1 0-1.4 .1-1.4-.3-1.5 .1 .1 0-.3 0-1.3 .8-1.5-.7-2.4 .2-2 0 2.6 .2-.8 .5-2.8-.8 .5 .6-3-.1 .4 .2-1 .2-1.9 0-1.8-.1 .9 0-2 .1-3.5-.4-.9 .3 1.7 .3-.7-.2-3.4 .4 0-.4-.3 .4-1.5 0-2-.4-.5 .8 1.9 0-2.8 .2-2.2-.2-.6 0-1.1 .1 0 .2-2.1-.1 .4-.1 0 .2-.5 0-.5 .2-3 .3 0-.4-2.6 .5 0-.3-.8 .1-.2 .3-2.2-.6-2.2 .7-.4 0-.6 .2-1.2 .1-1.1 0-1.1-.1-1.8 0-.1 0 .6 0-1-.3-1.1 .4-2.7-.1-2.1-.1 .3 0-.8 0-1.7-.2-1.6 0-2.5 0-1.6-.2 1.1 .2-.5-.2-1.4 .2-.9 .3 .3-.3-4.1-.3 1 .6-.6-.2-1.1-.4 .1 .3-4.8-.7 2.5 .2-2 .2-.9-.2 .2-.3 .2 1-2.6-.5-1.9 .6-1.8-.9 .4 .2-3.9-.5 3.3 .7 .3 0-1.6-.2 1.3 .7 3.5-.3 2.7-.2 .7 .6-1.5-.2 1.6 .2-.5-.2 5.4 .8-1.6-.3-.8 .5 2.9 .2 1.4-.3 1.2 .2 1.7-.2-1.2 .4 1.9-.2 .1 .4 1.4 .1 1.5-.2 .1 .1-1.5 .6-.7-.5-2.2 .5 .4 .3-1.2 .2-.6-.6-1.9 .6-1.3 .2-1 .4-.8-.2-1.5 .6-.8-.6-1.6 .6-.6-.1-.3-.3-2.7 .5 .1 .3 1.6 .2-1.8-.3-2.8 .7-1-.3 .7 .5-1.2-.3 3.2 .3 2.3 .3 .4 .1-.5 .4 1.8 0 1.4 .8-.9-.4 3.6 .6-1.7-.2 1.7 .3 2.2 .5 .4-.1-1.6 .1 1.4 .2 2.1 .3-1.4-.1 6 .5 .8-.1 .3 .3-.9 .3 0-.6-3.3 .9 .9-.1-2 .6 1.5-.2-3.2 .6-1.1 0-1.1 .1-1.4 .1-3 .1 0 .3-1.1 0-1.4 .8-2.1-.6-.8 .3-.6-.3-1.4 1 2.1 .1-2.5-.3-2.3 .7 .3 .1-1.8 .1-4.2 .3 3.2 .3-.9-.2-3.7 .5-.8-.3-.2 .6 1.2 .7-.3-.6-4 .8 1.5 0-1.1 .3-.7 .2-3.3-.1 1.1 .2-2.7 .4-1.1 0 2.7-.3 .2 .3 .6 .4 .7 .8 1.8-.8 0 .2 .4 .4 1.9 .1-.8-.2 3.7 .3 .2 0 2.2 .1 .6 .2-.3 .1 2.7 .1-.6 .1 1.8 .3 .9 .1 2.8 .2 .5-.3 .6 .1-.9-.2 3.7 0 1.4 .8 .5-.7 .5 .3 1.2 0 1.7 0-1.9 .4 3-.2 1.3 0 1.6 .2-.2-.1 2.5 0 .8 .2-.6-.2-.2 .1 .8 .7 1.4-.4 2.9-.5-.7 .4 2.6 .1 2.3 0-1.5-.1 0 .2 3.5 .1 1.7 0 .1 .1 .4 .1 3.3 .5-2.5-.1 3.9-.3 .2 .2 .3 0 1.9-.2-.3 .6 3.7-.4-1.8 .3 1.7-.1 1.1 .3 1.6 0-.8-.1 2.6-.1-1 .2 2 .1 2.5 .1-1 0 2-.3 1.3 .3 4.3-.2-.3 .4-.6 .2 1.4-.6 2 .5-2.1-.2 2.7 0 .5 .1 3.4 .3-2.2-.1 1.6-.1 .9 .2-.9-.2 1.9 .4 2.5-.2-1.6 .6 1.5 .1-2 .5 .4 .1-1.9 .6-1.1 0 .9 .5-1.9 .3-2.2 .5 .8 0-2.4 .2-.7 .4-.4 0-2.8 .1-.8 .4-1.2 0-1.2 .2 .4-.3-.9-.3-.9 .5 2-.2-3.5 .7-1.6-.2-1.9 .2 .9-.5-2.2 .6-.4-.1-1.8-.2 1.4 .3-3.1 0-3 .5-.6-.5-2.1 .1 1.1 .3-3.1 0-.7 .4 .3-.1-1.2 .1 .6 0-.5 .4-1.1 .5-3.4-.6-.4 .2-.7 0-2.2 .4-.6-.1-2.3-.2 .4 .2-.1 .2-.9-.1 .5-.4 0 .9-.5-.1-1.2-.2-2.7 .1-.2 .3-3.4 .2-.5-.1-2.6 .5 .6-.1-.2-.1-2.1 .2-1.6 0 .1-.1 1.2 .3-1.9 .1-2.5 .1 .6 .2-1.8 .1-1-.1 .2 .6-3.8-.3 .8 .1-2.5-.2 .6 .2-.4 0-3.1 .1-3.7-.1-.9 .2-.5 0 1.2 .1-1 .1 .7-.1-.5-.1-2.4 0-1.1 .1-1.2 .4-2.1 0-.7-.6-1.4 .4 .9 .3-3-.3-2.2 0 1.4 .1-.3 .1-2.4 .3-1.8-.2 .7 .2-1.1-.5 .3 .6-1.5-.1-2.8 .3-1.6-.1-2.1 0 1.6-.2-2.4-.1-3.5 .1 2.3 .1-3.5 .2-1.5 .2-.4-.5 .1 .2-1.5 .5-1.3-.2-1.2 .1-.6-.4-2 .6 1.2-.3-2.8-.1-.4 .3 1-.1-3.4 0 1.7 0-2.5 .1-.6-.1 0 .4-3.6-.3-4 .3 2.4-.1-1 .9 .3-.7-.2 .2 1 .1 1.6-.1 3.2 .2-.7-.1 3.4 .4 1.3-.4-4.4 .4 1.5 0 4 .6 .5 0 1.1 0-.5-.8 1 .5 .6 .4 1.9 0 2.1 .4-.4-.4 3 .1-.6 0 1 .1 1.2 0 1.9 .3 1.1 .1 .6 .6-.6-.4 .9-.1 1.9 .4 3.4 0-.8 .3 1.7-.3 1.6-.2-.4 .5 1.2 .1 .3-.2 1.4 .4-.5 0 5.2-.3-2.2 .4 1.6-.6 2.8 .6 2 .1-.9-.1-.1-.3 2.4 .6 0-.1-1.2 .1 4.2 .2 1-.1 .4 0-.5-.2 3.9 0-.6 .2 0 .3-.1 .1 1-.6 4.4 .1-.4 .6 .6 .2 1.3-.6 1.1 .3 2.7 .3-.5 0-.4-.4 3.5 .4-2.2-.2 1.9 .5-1.3-.4 3.6 .3 2-.2 .8 .5 .5-.3-1.1 .7 3.8-.4 1.4 0-1 .2 1.4 .5 1.2-1 3 .5-1.5 .2 2.9-.5-3 .5 4.8 .1 3.7 .2-.8-.4-.7 .2-.2 .2 2.4-.1 2.7-.1 1.3 .2-1.7 .2 2.7-.4 0 .2 .5-.1 1.2 .1 1.5-.1 1.2 .1-1.3-.1 4.6 .5 .9-.2-.9 .1-1.7 0 4.9-.2-2.2 .2 1.6 0 2.5 0 .7 .4 2-.1 1.1 .2 1.2 .1 .8-.1-.2 0-.8 1.2 3.3-.8-.9 1 2.5-.9 1.2 .8 1.8-.6-2.7 .1 4.9 .2 .5 0 2 .4 .7 .2 1.3-.4 .6 .3-1.8 .4-.2 .4-1.3 .3-1.4-.5 0 .7-2.5 .2-1.4-.2-1.2-.1 .9 .4-1.6 .6-1.1-.5-.7 .3-.3 .6-1.9 .1-1.8-.2-.7 .1-1.5 .6 .6-.1-.8 .2-1.1 .5-1.7 .2-2.4 0-.6 .1-1.9 .5 1.3 .3-2.5-.2-2 .9 .1 .7-.4 .8 1.1 .2 3.2 .1-2.2 .4-1.3 0 4.8 .4-1.6 .1-.3-.3 3 .6 .2 .2 .5 0-.7 0 2.1 .9 3.5-.5 1.2 .4 1.9 .2-1.5 .2 .6 .2 2.7-.1-.9-.1 1.8 .5-.3-.2-3-.1-1.3 .6-1-.3-.5 .4 1.2-.6 .2 .1-1.5 .4-2.8 .6-1.5-.2-.7-.2-.9 .2-.1-.4-.7 .5-.9 0-.9-.2-1.2 .1-.1 .5-.5-.2-2.6 .1-.5 .1-3.2-.1-1.8 .4 2.6-.1-2.8 .1-1.7 .2-2.3-.2 .5 .8-1.4-.6-.9 .1-1.1 .4 1.3 0-1.4-.5-3.1 .8 1.7 0-1.8 0-1.3-.4-1.7 .6-.2 .7 1.7 .7-.5 .4 1 .6 .2 .6 .8 1.4 2.4-.4 .1-1-1.5 .7 2.1-.2 1 .2 .9 .1 2.2 0-.3-.1 4 .4 .2-.3-.4 .4 5.3-.2-2 0 .9 0 1.5-.2-2.2 0 3 .6 1-.4 1.8 .4 1.1-.5-1.3 .2 1.7 0 1.9 .1 1.5-.1-.4 .2 .5 .1 2.8-.2 .1 .1-.9 .1 1.2 .1 4.4-.1 1.5 .2 .8 .3 2.1-.3-.6 0 1.9-.4 .6 .1 1.9 0-.9 0 1.9 .4 1.2-.2 .6 .4 1.5-.5-.2 0 .5 .2 1.3 .4-1.5-.4 2.1-.4-.1 .5 1.9-.4 3.5 .7 1-.1 .4-.4 1.6 .1 2 .1 .5 .1 .1-.4 2.7 .4-1.5 0 2.8 .2 .1-.3 2.9 .1-2.3-.2 2.9 .5 2-.4 .9 .4-1.6 0 2.1-.8-.6 .9 3.6-.2 0 .2 1.6-.3 .4 .4-.1-1 1.9 .7 1.6 0-.8 .4 .4 .6 1.8-.2 .6 .5 1.3 .6 2.8 .2-1.5 .2 2.3 0-.8 .3 3.1-.2 2.6-.1-1.4-.1 2.7 0 2.2 .5-1.5-.1 1.5-.1 .9 .5 .7-.5 2.4 .3 1.2-.2-.1-.1 1.6 .1-.1 0 1.3 .1-.9 0 3.6 .2 3.2-.3-.9 .1 1.5 .1-1.5 0 1.9 .1 2.4-.2 3.2 .3-.9-.2 0-.2 3.4 0 0 0 .7 .6-.9-.1 3.8 .2-3.4-.4 3.3 0 1 .4 1.4 .2 1.4-.6 .2 .3 .1 .2 1.8 .4 1.6-.4 1.3 .1 .7 .3 1 .1 0 .3 4.3-.3 1.8 .5-2.4-.4 1.6-.2 .8 0 2.2 .5-1.1-.2 1.6 .6 2.3-.3 .5 .4 1.9 0 1.8 0-.8-.4 1.3 .6 2.7 0 1.6 0 .5 .4 .1 0 .7 .2 .8-.5 1.8 .5 2.5-.1-1.2 .8 3.2 .9-.2 .9-.9 .2 3.7 .5 .5 .6-.8 .2 .9 .1 1.4 .2 .5 .5 .3 0 1.6-.2 1.2-.1 .8 .5 3.7 0-.6 .1 2 .1-.8 .3 2.9-.1-.5 .3 2.4 .2-.6-.3 2.1 .6 1.7-.4-.5 .3 2.2 .1-.2 .3 .6 .1-.1 .2 3.4-.1 1.3 .1-.1 .4-.1-.4 1.6 .6 2.4-.3 .8 .3-.8-.1 1.6-.1 2.2-.1 1.6 .3-.5 .6 1.1 .2-.3-.3 1.5 0 3.1 .1 2.2-.1-.5 .2 2.1-.2-.7 .2 .3 .2 .7-.2 1.8 .4 1.8-.2-1.9 0 4-.3 1.6 .5-.7-.1 1.3 0 2-.1 1 .4 .1-.6 .5 .5 1.1-.1 3.6 .1-1.2 .2 1.5-.1 1.4 0 1.1-.1-.6 .3 3.5-.2 1 .1-.3 .1 .3-.3 .9 .5-.6-.5 1.5 .6 2.6-.4 1.9-.1 1.1 .2 .1 .2 1 .2 1.7-.4 1.6-.1 .5 .1-.2 0 2.6-.1-1.6 .2 .7-.1 2 .1 .7 .3 2.3-.2 2.6 .1 .6-.1-1.1 .1 4.3 .3 1.4-.2 1.1 0 .2-.2-1.7-.1 2.1 .3-.8 0-1 .3-.4-.1-3.7 0 .1 .6-.3 .3-2-.2 1.2 .2-1.6 .2-2-.7-1.6 .7-.6-.2 .1 .2 0 .4-1.6 .2-1.8 .3-2-.5-.1 .2 1.8 .4-5.3-.4 1.5 .5-3.3-.4-.4 .3-1.5 .3 .6 .1-2.5-.1-2.5 0 .2-.2-1.1 .4-.1-.1-3.8-.2 .4 .4-1.8 .1 1.1-.4-3.5 .3-.1 0 2.1 .4-2-.1 .5 .4-2.2-.7-2.2 .4-1.8 .2 1.2 0-.5-.1-2.2 .5-1 .4 2.4 .1 .3 .5 1.9 0 3.1 .7 .5 .2-.7 .6 .7 .1 4 .2-3.4-.2-.8 .2-.7 .1-2.3-.4-3.6 .3 .6 .4-1.9-.3 0 .2-.3 0-1.4-.4-1.5 .4 .5-.4-.1 .3-1.7 .1-1.5 0-1.4-.1 .6 .4-3.8-.2 2.6 0-3.4 .6-1.9 0 .8-.1-.9-.3-2.1 .8 .2-.2-1.9-.2-1.7 0 1.7 0-1.5-.1 .3 .3-2.2 .2-1.8 .1 0 0-1 .3-3.6-.2 1.3-.1-1.2 .3-3.7 .3-1-.4 .6 .1-2.1 0-1.8 0 1.9 .2 .1-.2-2.4 .2-2.3 .6-2.7-.4 .8 .2-2.5-.1-1.4 .9-.1-.2-2.6-.6-.1 .8-1.8 .1 .5 .4 1.5-.3-3.1 .4-.7 .1 .1 .3-.5 1.3-1.3 1.5-.1 .8-1.6 .4 3.5 .1 1.8 .2-.9-.4-.5 .3 .8-.2 .4 .1 .9 .3 3.3 .4 .1-.5 .1-.5 1 .8 .2 .4 .2-.5 2.6 0 3.1-.1-.6 .4 .2 .2 1.3 0 0 .4 5 .4-.4 .2 1.1 .1-.7 .1 .7 .4 5.2 0-1.7-.1 1.8 0 1 .5 1.9 0-.1-.1 3.7 .2-3.3-.2 1.4 .4 2.8 .2 1.2-.3-.4-.5 1.8 .7-2.5 0 2.9 .1 .7-.1 3.4 .2 1.1 .1 .2 .1 2.7 0 .6 .3-2.6-.2 2.5-.3 .9 .8 3.4-.7 1.8 .3-2 .3-2.1 0-1.9 .5-1.1 .2 1.5-.1-2.2 .1-1.6 .2-1.7 .1 .6 .1-2.5 .2-.4 .3-1.2-.3-.8 .2-.2 .5-.5 .1-1.2 0-3.3 .3 .1 0-2.1 .2-1.9 .1 .7 .3 1.5-.2-.5 .3 .2-.1 2.5 .1 .1 .2 1.8-.1-.5-.1 3-.2-2.1 .6 4.7 .3 .7 .3 .9-.2-.6 .2 2.3-.2-.8 .3-.3-.3 1.7 .5 1.2 0 2 .3 1.3-.2-.6 .4 3.2-.2-1.3 .4 3.9 .3-2.2 .4 .5-.3-3.9 .6-.8 .3-.8 .5 1.3 0-.9 .4-.2 .2-2.5 .8-4-.1 2.4 0 4.2 .4-2.1-.2 1.8 .4 2.2-.3-1 .8 .4 .3 .8 .1 5 .1-.2 .2 1.5 .5-.7-.3-1.1 .4-1.3 .5-1.5 .1-2.4 0 1.2 .5-2.4 .3-1.4-.3-2.1 .5 .3 .5-.7-.1 0-.1-2.4 .5-2.2-.3 0 .4 0 .1-.3-.1-1.1 .1-4.4 .4 1 0-3.6 .4 1.3-.2-.2 .1-3.7-.1-2.3 0 .6 .2-1.4 0 .8 .4-.8 .3-1.4-.5-1.5 .5-3.1-.2 1.5 .2-.7 .1-.2 .1-1.6-.4-2.5 .3 .2 .5-.8-.2 .9 .5-2.6-.3-2.5 .7 0-.1 0 0-3.2-.3 .9 .3-1.8-.2-.5 .4-.8-.3-2.1 .4-3.6 .3 1.6-.4-.1 .8-1.4-.1-3.3 .1-.7-.4 0 .7-2 .1-.2 0-.3-.1-1.7 .3-1.2 .1-1.3-.5 1.5 .5-2.4 .2 1-.5-2.5 .3-.6 .3-1.6 .2-3.2 0 1.1 0-.7-.1-3.4 .2 1 .2-1.4 .1-1.1 0-.5 0-2.9 0 1 .3-1-.6-2.7 .7 1.6 .7 .4 .1 .7 .2 1.9-.1 3.6 .6 .6 .2-.7 .4 .9 .6-.2-.1 .9 .4 .3 .5 2.8-.1 2.3 .2 2.2 .5 1.3-.5-1.3 .7 1.5 0 1 .1 1.3-.1 2 .1-2.1-.1 .9 .6 1.8-.4-.8 .3 3.7 .6 .3-.1 2.7-.6 .9 .8 1 .1-1.4 0 2.6 .4 1.9-.1 .4 .4-.7-.1 1.3 .2 3.6 0-1.6-.1-1.1 .7-1.2 0 .4 0-.9 .4-2.1 .2 .6 .4-1.8-.2 .8 .6-1.6 .2-2 .1-3.6 0 .3 .4 .7 .4-2-.1-2 .6 .8-.1 1-.1-2.6 .5 .2-.1 2 .2 .4 .5 1.6 .2 2.4 0 1.7 0 1.6 .3 1.7-.1 1.6 .7-2-.3 .7-.2 .8 .1 2 .6 .6 0 1.2 .1 1.7 .5-1.4 .5-2.4 .2-1.6 .3-.5 .9-2.6 .5 1.6 0 3.9-.2 0 0 .7 .1 2.4 .4-1.4 .2-2-.2 1.7 0 3.5-.1 1.7-.3 .8 .4 2.1 .2-1.6-.1 3.4 .1-.4-.2-.6 .5 2.4 0-.2 0 2.1 0 .6-.2 1.4 .4 .6 .2 .4-.5 1.2 0 1 0 2.1 .4 .6 .2 .5-.2 1.6 .1 1.8 .4 1.3 0 .5-.1-1.3-.1-1.8-.5 1.4 .5-2.1 .2-1.5-.2 .8-.1-2.1 0-1.4 .6-2-.2 1.5 0-.8 .6-.1-.5-5.1 .1 .1 .5 2-.1-2.1-.2-3.2 .1-.1-.3 0 .9-2.3-.4-2.3 .1 1.6-.4-1 .1-1.6 .4 1.7 0-1.6 .3-2.6-.1 .1 .1-1.1 0-2 0-.9 .6-.3 0-4 .1 0-.2-1.4 .2 1.4-.1-1.1 .7-2.9-.2 .1-.1-2.6 .3-1 0 .1 .3-1.4-.2 1.2 .7-3.5-.2-1.8 .6 .7-.8-3.2 .9 .8-.2-.2-.2-.7 .9-.1 0-2.1 .2-2.3-.4-1-.1-1.1 .9 .6-.3-3 0 .6 .3-3 .1 1.5 0-2.8 .1-2.6 .4 2.3 0-1.6 0-1.7 .1-1.4 .1-1 .1 .4 .2-3-.1-.3 0 .1 .4-.2 0-2.8 .2-.8-.1 .3 .6-1.6 .4-2.7 .2-.8 .1-.9 .5 .2 0 0 .1-.2 0-2.2 .6-.1 .6 .2 .2 3 .4 1.8 .3 .7 .1 1.2 1 2.5 .4 0 .1-.6 .3-.3 .4 1.7 .3 2.2 .3 2 .5 .2-.1-.6-.1 .4 .3-.2-.5-2.9 .3-.2 .2-2.1 .2-.4-.2-4.2 .2 .6 .2 0-.3 .3 .5 1 .2-.2 .2-.2 .3 .8 .3 .3-.2-.2 .4 2.5 0 .5 .5 2.1-.1 2.6 .2-.2 .2-1.1 0 3.6 .7 3.9 0 .5 .3-4.1 0 4.2 .5 1.6 .2 .6 .1 .6 .2 1.6 .2 .5-.2-1.7 .2-3.6 0-1.1 .4 1.3 .8 .4-.6-1.1 .2-1.6 .6-1.2 0 .5 .2-2.2-.1-.6-.1-3.4 .2 0-.3-1.6 .5-1.4 0 .1 .7-1.2-.7-.7 .6-1.3 .2 .7 .1-.4 .4-1-.1-.6 1-2-.7-3.6 0 .2 .3-.2 .2-.8 .3-3.1 .2 1.9-.5-2.2 .6-1.3-.3-2.5 .8 0 .4-.4-.2-4 .2 .4-.5-.6 .4-.9-.3-1.8 .4-.1-.1-1.3-.1-1.4 .3-.3-.2 .9 .5-1.8-.5-.8-.2-1.4 .2-4.2-.2-.3 .3 1.3 .1-1.4-.2-1.5-.2 1.4 .6-2.6-.1-1.7 .1-.6 .3-1.7 .2-.3-.6-1.3 .4-3.2-.1 .8 .8-1.7-.3-.2 .3-1.3 .1-1.5 .2-1.5 .4 1.6 .7-3.7-.4-.4 .9-2.5 .3 .7 .5-1.7 .7 .1-.2-.3 1.1-2.2 .6-.2 .3-3-.2-1.3 .1-.2 .4-1.2 .1 .8-.1-2.9 .4-.2 0-1.4 .2 2.7-.4-3.4 1.1-2.3-.5 .5 .5-.7 .3-2.8 .1-1.3 .4-.4 .3-1.4 .3-.6 .1-.5 .5-3 .4 1.6 .9-.7 1.1-2 1.4-.5 .2 .2 .3 .7-.4 2.8 .5 1 .3 2.1-.1 .5 .3 1 0 .5 .1 1.8 .4-.2-.3 2.6 .1 3.2 .2-3.7 .4-.2-.1 .2 .1-2.2-.2-2.4 .2 .1-.2-1 0-1 .4-.2-.1-2.7 .9 2.6-.4-4.1 .1-4.6-.2 1.4-.2-1.5 .2 .3 .4-.4-.1-1.5 0-.9 .1-1.8 0-.1-.2-1.8 .7-2-.2 1.1 0-1.2 .3-.7 0-2.1-.3 .1 .3-3 .1-1.9 .2-.9-.1 .6 .7-1.1-.5-.9 .6-2-.2-.9 .1 .2 .4-.8-.2 1.8 .5 1.9-.1 2 .2 .6 .4-1.4-.4 1.3 0 1 .3 3.3-.2-.3 .5 1.6 .1-.2 .2-.3 .2 1.4-.5 2.7 .5 .1 .4 3 .4 1.5-.3 0 0-1.1 .2 3.3 .6 0 .2-1.2-.5 4.9 .5 1.2 .1 1.6 .5 0 .5-.2 .7 1.9 .9 1.4 .2 .9 .5-1.2 .3 3.1-.4 .2-.2-.5 .6 1.3-.4 1.6 .4 1.2 .3 .3 0 2.2-.4 1 .5 2.2-.5-.6 .2 2.2 .2-1-.1 2.5 .4 .8-.5 1.8 .7 1.2-.3 1.3-.3 .4 .2-.3 .2 3.8 .4-1.8-.7 2.8 0-.2-.1 2.2 .3 2.3 .7-2.1-.3 2-.3 1.7 .2 1.2 .1 .7-.3 1.9 .5-2 0 4.5 .1-.9-.1-.8 0-.1 .4 3.5-.2 .3-.4 3-.1-.3 .5-.1-.1-.7 .4 3.7-.2-2-.5 2.4 .6 .9 .1 2.2 0 1-.3 .2-.1 1.7 .3 2.9-.1-1.1 .3 .4 .2 1.6-.2 .2-.1-1.6 .2 2.2 0-.6-.1-3.3 .3-1.7 .6 .4-.4 1.1-.1-3.5 .5-1.7-.2-1-.1-1.7-.2-1.1 .2 .6 0-.8 0-1.9-.2-.3 .3-.1 .3-2.2-.6-1.2 .3 1.1 .3-.1 .1-3.6 0-.1 .2-1.3-.4 0 .1-3.6-.1 .1 .6-1-.1-1.4-.4-1.6 .2 1 .3-1.3-.4 .6 .3-1.7 .4-1.8-.5-1.7-.2-.3 .3-1 .2-1.1 .2-.8 .3-2.4-.4 .2 .4-3 .5-.6-.1 1.5 0-.9 .2-3.9 .4-2.4 .1 1-.6-1.5 .6-.7-.1-.9 .2-.7-.1 .6 .4-4.8-.2 .8 .5 1.2 0 1.5-.3-.2 .3 2.7 .5-1.2-.9 2.8 .7 3.7 .3-3.1 .1 2-.6 1 .4 .7 .1 1.5-.1 1.5 .2-.2-.2 1.8 1 .7-.3-1.2 .1 2.6-.1 1.4 .1 1.5 0-.7 .4 4.1-.5-1.2 .5 1.1-.3 2.3 .2-2.4 .3 .8 0 4.7 0 1.1 .2 2.5-.4 1 .3-1.3 0-1.6 .1 2.8 0 4.6 .1-1.1-.2 .2 .4 2.5 0 .6-.3-.5 .6 1.2 .1 1.3-.2 .3 .1 1.9 .4 1.4-.2 .4 .2 .5-.2 1.9 0-.2 .4 1.5 .1 .9 .6 1.7 .1 2.5-.4 .2 .2 2.9-.1 0 .4-.7-.2 .4 .3-.3 .1 2.3-.3 .5 .4 3.2-.2 1.3-.2-1.4 .9 2.1 .3 2.6-.5-2.3 .2 1.6 .1 1.5 .3-.3 0 2.5 .1 1.4 .3 .7 .2 .7-.1 0 .6 1.2-.2 1 .3 4.4 0-.7 .4 2.7 .4 0-.6-1 .6 1.1 .2-2.3 .4-.9-.2-2.4 .2 1.3-.1-1.9 .3-1.4 0-1.1 .1 .6 .2-1.4-.4-1.5 .7-2.2-.1-1.1 .8-.2-.6-1.7 .4-2.5-.1 .6 .5-.9 0 .7 .3-.4 .1-2.7 .1-.8 .4-.8-.3-2.8 .5-1.4-.5-.4 .2-.3 .1 1.3 .4-2.1-.4 .2 .1-2.1 .7-1.1-.3-2.3 .3 .7-.1-1 .1-2.3-.1 .8 .7-3-.5-1 .3-.7 .3-1.3-.3-.1 .7-1.4-.2-3 .3-1.4-.1-.7 .2-.4-.2-1.9 .7 .5-.1-1.4 0-.2 0-1.2 .5-1.3 .1-.2-.1-2.2-.3-1.3 .4 .8-.2-1.3 .4-1.7 .4-1.4-.1-.1 0-1 .1-2.1 .2-1.8 .3-.1 .4-1.1-.4-1.2-.1-.5-.1-.9 .3 .5-.1-2 .2-.6 .1 .1 .5-3.2-.5 .8 .9-4.1-.6 .7 .6-1.6 .3-1.1-.2-1.5 .4 1.1-.2-1.5 0-1.8 .2-1.6-.2 .6 .3-3 .1 2.2 0-2.4-.1-3.5-.2 2 .3 .2 .9-.4-.6-1.5 0-2.2 .3-2.7 .1-4.7-.3 1.2 .5-.3 0-1.4 0-1.8 .2-1.1 .1-.9-.1-2.1-.1 2.3 0-1.3 .5-.6 .2-.1-.4-.5 .4-2.4-.3-1.3 1 1.1-1.1-2.7 .6 .5-.1 0 .5-2.8-.1-3.9 .3 .4-.6-.7 .7-4.2-.3 2.7 .6-1.3-.4-2.8 .3 0 .2-1.2 .2-1.1 0-1.5-.1-1.3 .1 0 .3 1.6 .2 1.8 0-2.4 .1 3.2 .3 .9-.4 1.8 .6 .5-.4 1 .5 1.7 0 1.7 .3 0 .3-.7-.2 2.3 .2 1.8 .1-2.2-.3 2.5 .5 2.7-.2 .9 0 .6 .1 3.8 .7-.1-.4-1.3 .1-1.4 .2 1.4 0 2.5 0 1.8 .1 1.3 .1 .2-.2 .9 0 1.7 .4 1.9 .4 .8-.3 1.9 .4 .6-.1 .3-.2 1.5 .2 1 .2 .4-.2 2 .2 .2 .2 0-.1 1.6 .2 2.5 .1-1 .2 1.5 .2 4.1-.1 .9 .3-.2 0 0 .3 .3 .3 .2-.6-2.5 .5 4.1-.3 2.3 .3 1.7 .2 1-.1 .4 .3-.4 .3 .8 .1 .6-.1 3.2 .2-.2 .5 .8-.2 1.1 .1-2.2-.2-2.1 .6-1.7-.4 .8 .7-4-.3 0-.4-.9 .3-.4 .1-1.6 .8-1.1-.9 1 .4-4 .4-.8-.3 1.6 .2-1.3 .4-4.2-.4 2.5 .2-1.3 .1-1.9 .2-1.4 .1-1.7 .2-2-.5-.9 .4 1.2 .4-2 .2-.7-.7-.4 .2-1.9 .6-1 .1 2.5-.2-2.6-.6-1.8 1 .2-.4-2.9 0-1.8-.1-1.4-.2 1.3 .3-.5-.2-2.4 .3-.4 .1 1.4 .4-2.9-.3-3.1 .4-1.7 .1 .4-.4-2.6 .2 0 .4-.1-.4-1 .1-1.2 .6-1.8 .1 .4-.4-1.7 .1-.4 .2 2.9 0-.7-.1 3 .1 1.4 0 .2 0-.9 .2 2.3 0 1.3 .2 2.1 0 .7 .2 2 .6 .3-.8 .8 .5-.3-.3-.2 0 2 .5 2.8 .3-.1-.5 .2 .4 2.7 .3 .1 0 .9 .2 1.4-.4 1.5 .2 2.3-.2 1.6-.1-.7 .9 1-.2-.1 .3 .9-.1 1.6-.4 2.1 .5 .9 0 1.7 .1 .4-.1-1.1-.1 1.3 .3 1.3 .1 1.3 .2-2.3-.4-.7 .8-3.9-.5-.7 .4 1.4 .1-2.6 .3-1.9-.2-.3 .4-.4-.4-1.9-.3 2.4 .6-3.1 .1-1.3-.3 .5 .6-2.7-.8 1.6 .9-1.9-.4-2.7 .2-2.1 .3-1.3 0-.6 .2-1.9 .1 1.4 .3-.8-.4 0 0 0 .5-2.4-.3-2.2 .1-.5 .3-1.4-.3 1.7 .2-4.5-.1-2 .7-.9 .1 .5 .2-.9 .3-1.3-.1 .4-.2-3.4 .2 .4 .4-1.1 0 .7 .2-1.9 .4-2.4-.3 .7 1 .1-.2-2.3-.1-2.8 .3 .1-.1 2.6 .5-.5 0 .8 .3 .9 .6-1.1-.7 3.5 .2-.2 0 2.3 .4 3.7 .7-2.7-.2 1.6 0 .9-.2 3.7 .4-.3 .3-.1 .2-1.1 0 2.8 .1 .6 .1 1.1 0 3.2 0-1.6 .5 .7-.7 2.4 .6-.6-.1 1.1-.1 1.9 .1 1.2-.1 3.5 .3 .4-.3-.5 .5 .3 .1 2-.1 1.6 .1 .8 .1 1 .2-.1-.2 3.7-.2 .5 0 .4 .3 1.8 .2 1.4-.1-1 .3 3.1-.4-.3 .1 0 .1 2.1-.3 .5-.1 1.6-.5 3.1 .4-2.9 .1 2.7-.3 1.2 .4 1.3 0 2.3-.3-1.2 0-.3 .4 1.8-.3 3.4-.1 .4 .2-1.4-.5 1 .7 .9-.1 .6-.3 .6-.1 3.1 .1-.1 .1 3.8 0 .1 .1 2-.5-.5 .2-.3 0 1.5 .5 .7-.3 .9-.5 .8 0 .5 0 .4 .3 2.4 0-.4-.2 2.6 .1-.9 .2 3.8 .1 .7-.4 1.3 .5 1.7-.1 .8 .2 .4 0-1-.1 1 .5 2.8-.4 1.3 .4 4.3 0-4.4-.1 1.7 .7 3.3-.6 .6 .4 1.8 .1-.3 .1-.2 .3 2.4-.3 3.4 0-.2 .5 .3-.2 1.5 .3 2.5 0 .8 0 1 .1 .5-.2-.2 .5 1.9-.1-.7 .1 2 .3-1.8 .1 1.4-.4 3.7 .1 .8 .3 .2-.4 .4-.2 1.4 .1 2.7 .5 2.1-.3 2 .1-1.5-.1 1.6-.3-.1 .6 1.1-.2 3.4 .4 .5-.4 .8 .2-4.3 .2 4.8 .4 2.7-.6-1.1-.2 3.1 .4-3.3 .3 3.2-.3 2.1-.4-.2 .3 1.9 .2 .2-.1-1.2 .5 2-.2 2-.6 .2 .3 3 .4-1.1-.6 2.7 .8 .5-.7 1.4 .6-.1-.1 3.5 0-1.9-.3 1 .4 1.4-.1 2.3-.3 .3 0 2.6 .3-.2 .1 .8 0 1.8-.3 3.4-.2 1.5-.2-2.4 .4 .1 .4 2.5-.4 3.4 .1 .2-.9-2.8 .6 1.6 .2 2.8 .1 1.2-.1 .9 .7 .8-.8 1 .4-.5-.3 2.5-.1-.6 .5 3.8-.2 .1 .2 2.6 .2-.9-.3 1.2 .1-.1-.4 2.8 .5-2.1 .2 3.3-.7 1.2 .4 1.3-.3-1.1 .4-.3 .1 .9 .1 2.4-.3 2.7 .4 0 .1 .3 0 2.4 0-.1-.1 1.2-.1 2.1-.4 .5 .7 .1-.5 .2 .4 .4 .3 3.4 0-.9 .2 .7-.4 2.9 .1 .5 .3 .7-.4 2.1-.2 1.4 .2 .8 .1 .1-.3 1.7 1 1.4-.8 1.6 .5 .7 0-.9 0 1.3-.2 .6 .1 1.1-.2 2.9 .1-.6-.5 2.1 .3 1.5-.2 .3 .4 1.2 0-.2-.2-.5-.2 3-.1 1.5 .4 3.3-.3 .7 .2-3.1 0 4.1 .1 1.7 .1 .2-.3-.3 .2 2.6-.4-.5-.4 3 .7 .9 .1-1.6 .4 2.3-1.1 1.2 .8-.4-.2 1.1 .3 1.5-.3 1.7 .2 0-.1 .7 .1 2.2-.1 1.8 .1 2.7-.4-1.8 .5 .3 .1 .3-.5 2.6 .1-.2 0 2.7 0 1.5-.1 1.9-.2-.5 .1 .3 .1-.6-.4 3.1 .2-.6 .4 2.4-.1 1.4 0-.2-.1 .6 0 2.3-.4 2.4 .7-1.9-.3 1.4 .1 1.1 .1 1.5 .3 2.4-.4-2.1 .1 1.5-.1 1 0 2.5 .1 1.4-.1-.4 .2 3.1-.4 1.5 .4-.7-.1 1.2 .1 .7-.4 1.5 .1 1.4 .2 .4-.2 1.3 0-.5-.2 1.8 .8 .7-.5 .9-.1 .2 .1 2.6 0-.8 .3 1.3 .1 2.1-.7 1.8 .2 2 .1 .1 .3-.7-.5 2.2 .3-.4 0 3.6-.2 .7 .2 1.8-.2-.9 .4-1.2-.3 6.4 .2-.4 .3-.2-.7-.2 .4 3.7-.2 .8 0 0-.1 1.2 .5 1.8-.6-.5 .8 1.2-.3-.1-.5 .9 .2 3.1 .2 .3-.1 2.2-.3 1.8 .4-1.1-.6 1.7 .6 .1 .2 .9-.3-.7-.5 1.4 .4 1.8-.1 1-.1 2.5-.1-.2 0 2.7 .1 2.1 .6-.7-.1-.7-.4 .2 .2 3 0 1.3-.5 2.6 .7-1.2-.2-.5 .6 5.2-.1 0-.1 0 .2-.1 .4 .2-.1 2.8 0 1.2 .4 1.4 .3 .7 .1 2.5 .1-.8 .2-.4-.1-.1 .4-3.4 .1-1.7 .3 3.2-.4-4.7 .3 0 .2-.4 .2-1.3 .3-3.3-.5-1.6 .2-2.3-.1 1.9-.4-2 .2 .7 .4-1.5 0-.8 .1 1-.2-3.5-.2-.8 .1 0 .3-1.1-.3 1.1 .6-2-.4-.3-.1-3.5-.1-1.6 0-2.5 .3-1.8-.3 1.7 .1-.7 .1-1.3 0-1-.1-1.8-.2 1.7 .4-3.1-.2-.3-.1-1 .2-1.8 .1-.4 .3-.5-.2-1.3 .2-1-.7-.1 .1 0-.1-1.4 .2-1.9-.5 0 .7-4.6-.3 1-.3-1.1 .3-1.7 .2 .3 .2-1.8-.1-1.9-.1-.7 .2-1 .2-1.2-.7 .4 .5-2.1-.6 1 .5-2 0 1.3 0-3.3-.4-1.4 .2-1.3 0-1.3-.2-.4-.2-.4 .5-.9-.4-1.2 .4-2.2 .1-.2-.2-3.2-.3 1.5 .2-3 .1-.5 .1 1 .1-4.2 0 .4 .1-.7-.4-.7 .3-2.6-.6-.2 .7 .4-.2-4 .3 1.3-.6 .4 .4-1.5 .2-3.5-.2 .6 0-2.2-.3-.3 .2-.7-.1-2.8-.4 .7 1 1.1-.6-1.6-.2-3.2 .5-1.9-.2-.8 .2-.5 0 1.2 .1-1-.5 .2 .1-2.4 .1-1.6 .2-1.1-.7-2.7 .8 .3 .1-1.4-.3 2.1 .1-3.1-.4-.4-.1-1.2 .5-2.9-.3 .1 .5-1-.1-3-.4 1.9 .4-.3-.1-2.5 0-1.2-.2-1.2 .6 .2-.1-1.9-.6-2 .4 .4-.3-.8 .5-1.9-.2 1-.6-1.8 .9-2.5-.5 1.6 .3-5.5-.2-.8 .1-.2 .2-1.2-.4 .5 .8-2.8-.5 1 .5-3.1-.5-.8-.2 .6 .1-.7-.2-3.5 .2-.1 .5 .6 .2-1.4-.5-1.3-.4-.8 .3-.8 .3-1.8-.3 .2 .2-2.2-.3-1.3 .5-.7-.2-.7 .2-1 .1-.8 0-.9-.4-1.2 .2-.2 .4-1.8-.5-1.3 .6-.9-.1-2.2-.3 .8-.1-1.5 0-3.1-.1-1 .5 .2-.2-1.3 .1-.9 .4 .4-.2-.3 .1 .1 0-1.8-.3-.8 .2-3 0-2.6 .1 .2 .3 .5-.2-4.1 .3 1.2-.2-1.4-.3-.6 .4-.4-.1-1.5-.1 .5 .2-2.2 0-.4 0 0-.4-3.5 .8-.5-.5-.6 .2-.7-.3 .3 .3-1.2 .2-1 0-4.6-.3 1.1 .4-1.1 0-2.6 .2 1.2-.5-2.3 .1 .8-.5-1.1 .2 1.3 .6-5.2-.2 .3 .4-3.8-.3 1 .1-.6 .4-2.2-.1-.2-.1-2.3 .1-.3 .2-.1 .1-1.4 .3-.4 .1-2.6 0 .8-.1-2.2-.2 1.8 .3-1.7 .1-.3-.1-1.8 .6-2.8-.4-2.5 .2-.3 .3 .2 .6-1.4 .5-3.8 0 .9 0 .1 .3 4.4 .5 2.4-.3 .9 .3 0-.3-.6 .7 1.9-.2 0 .2 1.2 0 2.3 0 2 .7-1.7-.3 2-.1 2.4 .1-.1 .4 1.9-.3 .8 .1-.3 .3 .1 .4 2.6 .2-.9 .3 3-.6 2.2 .6 .9-.1 .8 .3 2.3-.3-1 .2 .8 .8-.5 0 2.3 .1 2.7-.3-.2 .4 .9 0 1-.1 1.4 .2 2.2 .2 .3 .3 2.3 .2-1.2 0 2.4 .3-1-.4 2.8 1.4 1.8-.2 0-.4-1.3 .8-1.5 .1-2 .4-.8 .1 2.8 .7-4.4-.3-.8 .5 0 .2-1.1-.1-1.1 .7-.3-.4-2.7 .6-1.3 .2 1.2-.1-5.9 .4 1.5 0-2.2 .4 .6 .4 .3-.3-2.4 .3-1.2 .1 1.8-.1-2.4 .8-3.1 .1-.2-.3 .2 0-1.3 .2-.6 .4-.8 0-2.6-.3-.3 .5-1 0-1.1 .2-.9-.4-1.5-.4-.3 1-2.2 .2-1.7-.5 1.6 .3-3 .3 .3-.5 .1 .1-1.5 .3-.9 0-.5-.2-1.7 .4-3.3 .2-.5-.4 1.8 0-4.4 .5-1.4-.3 .1 .1-.4 .1-1.3 .2-3.1 .3 .2-.6-.7 0-.9 .1-1.3-.1-.6 .2-1.5 .1-2.2 .2 .6-.1-1-.1-.2-.3-1.2 .3-3.3 .2 1.1-.1-1.2 1.1-3.5-.1 2-.4-2 .2-1.1-.3-1.9 .2-.5 .3-1.7 .2 1.8 .6-3.1 .1-1.6 0 .3 .2-1.1 .3-3.3 0-1.4-.4 0-.4 .5 .3-2.8-.4 .2 0-3.9-.1-.6-.1-1.7 .5 .3-.1-.8 .5-.2-.2-1.5 0 2.9-.2-2.2 .3-3.6 0 3.2 .1-1.8-.3-4.4 .8-.4-.2-1.9 0-1.7 .1 1.4 .3-2.8-.1 .1 .2 1.5-.3-1.4 .7-2.6 0-.4-.2-3.6 .5 2.1-.8-5.9 .8 3-.8 .1 .9-2.2-.4 .1 .5-.9 .2-2.9-.1 .6-.1-2.6 .4-1-.6 2.1 .4-.6-.2-4.3 .3 .8-.1-3.2 .1-1.3-.1 1.6-.5-2.8 1-.6-.4 1.1 .1-3.3 .2-2.9 0-1 .3 .2 .4-.8-.4-.6-.1-.6 .1-.3-.1-3.8-.2 1.8 .4 .2 .4-2.6-.4-1.5 .1-4.2 .4-.7-.2 .7 .5 .8 0 .9 .1-4.9 .3 .4 .1-3.3 .1 .9-.1-3.4 .2 .1 .1 .7-.3-4 .4 1 .6-1.1-.1-1.7-.2-2.3 .7 3.2-.3 .1 .1 2 .1 1 0 1.6-.1-.1 .1 .3 .7 1.6-.4-.2 .4 1.3-.1 1.7 .1 .4 0 1.6 .4 3.4 .1-.2 .1 3.8 0-1.8 .2 2.4 0-.4 0-.5 .1 1.5 .1 3.4 .1 1.5 .4-2.2-.2 1.2 .5 3.2 .1 .5-.1 0 .2 .1 .1 1.2 .2 .3-.2 4.4-.1 0 0 .4 .5 2 .1 1.8-.1-.5 .4-.3-.1-3.2 .5 1 .1-1.7 .3-1.8 0-.3 .7 2 0-5.7 0 1.5 .5-3.5 .1-.8 .2 1.9 0-.5 .3-4.9 .3-.4-.6 .2 .5-2.6 0-1 .2-.6-.2-2.3 .6-.7-.6 0 .6 .2-.5-3.4 .4 .9 .4-.2-.1-.8 .2-2.4-.2-1.7-.2-2.9 0 2-.3-1.7 .3-1.1 .2-.5 .1-1.8 .1-1 .4-.8-.8 .8 .6-.2-.2-2 .4-1-.2-2.5 .6-.1-.4-2.5 .7-1.7-.1 1.8 .2-2.5 .2-.3 .5 .9-.1-.7 .1 2 .2-.5 .4 2.4-.5-.3 .4-.1-.5 2.7 .8 1.5-.3 .6 .3 .8 .3-.4 0 3.4 .3 .9-.2 .3 .1 2.6 .3-.7-.2 .3 .3 2.8 0-.7 .4 2.1 .2 .8 .2 .7-.5 2.1 .4 .1-.1 .8 .3 1.6-.1-1.3 .6 1.7 0 1.6 0 2.4 .2 .3 0 1.9 .1 .6 .5 .5 0-.2 .1 1.7 .1 1.8 .5 1.2-.6-2.5 .5 .4-.2 .9 .2-2 0-2.8 0-1.9 .3-.7 .3-.5-.1-2 .3-1.3-.1-1.1 .4-.9-.4-1.5 .3-.2 .4-1.4-.6-.7 .2-.4 .3-1.4 .1-1.5 .4-.5-.2 2.7 .5-3.5 0 .8 .4-2.8 0-1.2-.4-1.8 .2 1 .4-3.4 .3-1.5 0 0 .5-1.5 .1 1.2 .2-3.6 .2-.2-.4-.2 .2-3.4 .2 1.7-.2 .3 .3-1.8 .2-3.7-.1-.6-.2-2.9 .2 .1 .6-.8-.4-.5 .3-.7-.1 .1-.1-3.2 .1 .1-.1-1.4-.1-1.4 0 .4 .2-2 .1 .1-.1-2.5-.1-1.4 .5 3.2-.3-1.8 .4-1.1-.1-.5 .4-3.6-.3 .4-.1-1.1-.4-2 1 1.4-.4-1.8 0-1.9-.2-1.4-.3-.2 .4 2.2 .3 .3 .3 2.1-.5-2.1-.1 1.8 .5 1.8 .2-.4-.2 .4 .4 2-.2 1 .1 1.6 .4-1.4 .1 3.2-.1 1.2-.3-1 .6 0 .2 2.3-.4 2.7 0 .9 .4 .6-.2 2.3 .5-1.4 0 .9-.3 .5 .4 .2 .6 3.8-.7 3.6 0-3 .2 2.6-.3 1.3 .7 .6-.5 .6 0 .1 .2 3.6-.1-.3 0 2.3 .1-.6 .4-1.7-.1 2.4 .1 2.4 .4 .7-.6 2.3-.4 1.1 0-.7 1 1.5-.8 1.9 .5-1-.1 3.1 .1 2.6 .2 2.2-.7 1.4 .8-.5 0 1.5-.1-.2 .1 .4-.4 2.6 0-1.1 .5 .2 0 1.7 .1 1.9-.1 0-.1-.2 .3 1.8 .2-.5-.6 2.3 .5 1.4-.2 1.4 .2-.1 .1 2 .2 .6-.2-.9-.4 .7 .6 3.1 0 1.1 .2 1.2-.1 .5-.5 2 .3 2.3 0-1.4 .1 2.7-.1 1.5-.1 .4 .7 .2-.2 .5 .3-.7-.2 2.4-.3-.8 .3-.9 .1-1.8 0-1.2-.1-3.3 .3 2.1 .2-.7 0 1.4 0-2.2 .2-1.1 .4-4.2-.3 1.9-.1-2 .4-1.5-.6-1.1 .3-.4 .3-.4-.4-2 .2-.8 .4-.7 0-1.2 .4-1.1-.5-2.7 0 2 .3-.7-.2-1.7 .4-1.7 .1-3.3-.5 .3 .5 .2 .4-2.7-.4 .1 .4-1.6 .1-.7-.1-1.8 .1 .8-.3-2 .3-1.7 .6-2.4-.3 .8 .1-.5-.1-.9-.1 .6 0-3.2-.1 0 .3-1.2 0-3.3-.3 2.8 .1-.4 .1-2.6-.1-1.2 .2-1.8 0-1.6-.1 1.1 0-1.3 .2-2.7 .3-.5-.2 .3 .4-2.2-.5-2.2 .3 1.1-.1-.6 .3-.7-.1-4.1-.3 1.5 .4-2.5-.1 .4 .1-3.3-.1 .1-.4 .7 .4-1.6 .1-.6 .1 .4-.3-3.2 .4-1.4 .1 1.1-.3-2.1 0-1.2 .3-3-.4-.5 .6 1-.6-1.2 .1-2.6 1-.2-.8 .1-.2-2.8 .3-1.4 .1-.6-.4 .1 .3-.3 0 .1 0-3 .2 .3 .1-.7 .3-1.9-.6-1.8-.2 .2 .5-1.6-.6-2.6 .6-2.1-.4 3.3-.1-4.2 .5 1.4-.3-1.3 0-1.1 0-1.2 .1-3.2 .1 .3 .2-1.7-.7-2.5 .5 1.2-.1-1.1 .2-.4-.3 .2 .2-3.8 0-.6 .1-3.2 0 3 .1-.4 0-2 0-.3-.1-1.3 .1-2.8 0-1.1 .3-3.2 0 2.6-.6-1.1 0-1.9 .3-.3-.5-1.1 0-3.1 .6 1.9-.2-1.7 0-3.5-.1-.1-.2 1 .6-1.4-.5-.4 .6-5.1-.3 2.8 .1-1.9 0 .4 0-2.3 .4-.5-.6-1.3 .5 1.2-.5-.9-.1-3.5 .6-1.1-.3 .2 .2-1.5-.4-1.6 .6-1.8-.6-1.6 .2 .7 .1-1.6-.4-1 .5 .4 .1 .3-.3-3.4-.4-1.9 .4 .5 .2-.2 .3-2.1 .1-2.4 .1-.7-.6 1 .1-2.2" fill="none" stroke="#fdbf0b" stroke-width="4.6" stroke-linejoin="round" stroke-linecap="round"/>
<g font-family="Liberation Serif, serif" font-weight="bold" fill="#f8fbfe"><text y="37.0" font-size="30.5"><tspan x="249.0" textLength="77.6" lengthAdjust="spacingAndGlyphs">Brent</tspan> <tspan x="336.2" textLength="142.0" lengthAdjust="spacingAndGlyphs">six-month</tspan> <tspan x="488.0" textLength="121.6" lengthAdjust="spacingAndGlyphs">calendar</tspan> <tspan x="616.8" textLength="100.8" lengthAdjust="spacingAndGlyphs">spread,</tspan> <tspan x="727.6" textLength="131.8" lengthAdjust="spacingAndGlyphs">1992-2022</tspan></text>
<text y="70.6" font-size="27.5"><tspan x="143.4" textLength="122.1" lengthAdjust="spacingAndGlyphs">Contango</tspan> <tspan x="275.6" textLength="29.0" lengthAdjust="spacingAndGlyphs">(-)</tspan> <tspan x="313.5" textLength="24.3" lengthAdjust="spacingAndGlyphs">or</tspan> <tspan x="347.4" textLength="184.7" lengthAdjust="spacingAndGlyphs">backwardation</tspan> <tspan x="543.1" textLength="38.2" lengthAdjust="spacingAndGlyphs">(+)</tspan> <tspan x="590.8" textLength="62.3" lengthAdjust="spacingAndGlyphs">from</tspan> <tspan x="658.8" textLength="94.5" lengthAdjust="spacingAndGlyphs">months</tspan> <tspan x="759.0">1</tspan> <tspan x="781.0" textLength="22.4" lengthAdjust="spacingAndGlyphs">to</tspan> <tspan x="812.0">7</tspan> <tspan x="835.5" textLength="128.8" lengthAdjust="spacingAndGlyphs">(US$/bbl)</tspan></text>
<text x="59.4" y="670.1" font-size="20.7" text-anchor="end">-12</text>
<text x="59.4" y="618.5" font-size="20.7" text-anchor="end">-10</text>
<text x="59.4" y="566.9" font-size="20.7" text-anchor="end">-8</text>
<text x="59.4" y="515.2" font-size="20.7" text-anchor="end">-6</text>
<text x="59.4" y="463.6" font-size="20.7" text-anchor="end">-4</text>
<text x="59.4" y="412.0" font-size="20.7" text-anchor="end">-2</text>
<text x="59.4" y="360.3" font-size="20.7" text-anchor="end">0</text>
<text x="59.4" y="308.7" font-size="20.7" text-anchor="end">2</text>
<text x="59.4" y="257.1" font-size="20.7" text-anchor="end">4</text>
<text x="59.4" y="205.5" font-size="20.7" text-anchor="end">6</text>
<text x="59.4" y="153.8" font-size="20.7" text-anchor="end">8</text>
<text x="59.4" y="102.2" font-size="20.7" text-anchor="end">10</text>
<text x="58.0" y="696.8" font-size="20.7" text-anchor="start" textLength="42.8" lengthAdjust="spacingAndGlyphs">1992</text>
<text x="117.6" y="696.8" font-size="20.7" text-anchor="start" textLength="42.8" lengthAdjust="spacingAndGlyphs">1994</text>
<text x="177.2" y="696.8" font-size="20.7" text-anchor="start" textLength="42.8" lengthAdjust="spacingAndGlyphs">1996</text>
<text x="236.7" y="696.8" font-size="20.7" text-anchor="start" textLength="42.8" lengthAdjust="spacingAndGlyphs">1998</text>
<text x="296.3" y="696.8" font-size="20.7" text-anchor="start" textLength="42.8" lengthAdjust="spacingAndGlyphs">2000</text>
<text x="355.9" y="696.8" font-size="20.7" text-anchor="start" textLength="42.8" lengthAdjust="spacingAndGlyphs">2002</text>
<text x="415.5" y="696.8" font-size="20.7" text-anchor="start" textLength="42.8" lengthAdjust="spacingAndGlyphs">2004</text>
<text x="475.1" y="696.8" font-size="20.7" text-anchor="start" textLength="42.8" lengthAdjust="spacingAndGlyphs">2006</text>
<text x="534.6" y="696.8" font-size="20.7" text-anchor="start" textLength="42.8" lengthAdjust="spacingAndGlyphs">2008</text>
<text x="594.2" y="696.8" font-size="20.7" text-anchor="start" textLength="42.8" lengthAdjust="spacingAndGlyphs">2010</text>
<text x="653.8" y="696.8" font-size="20.7" text-anchor="start" textLength="42.8" lengthAdjust="spacingAndGlyphs">2012</text>
<text x="713.4" y="696.8" font-size="20.7" text-anchor="start" textLength="42.8" lengthAdjust="spacingAndGlyphs">2014</text>
<text x="773.0" y="696.8" font-size="20.7" text-anchor="start" textLength="42.8" lengthAdjust="spacingAndGlyphs">2016</text>
<text x="832.5" y="696.8" font-size="20.7" text-anchor="start" textLength="42.8" lengthAdjust="spacingAndGlyphs">2018</text>
<text x="892.1" y="696.8" font-size="20.7" text-anchor="start" textLength="42.8" lengthAdjust="spacingAndGlyphs">2020</text>
<text x="951.7" y="696.8" font-size="20.7" text-anchor="start" textLength="42.8" lengthAdjust="spacingAndGlyphs">2022</text>
<text y="735.7" font-size="21.8"><tspan x="25.6" textLength="48.1" lengthAdjust="spacingAndGlyphs">Price</tspan> <tspan x="84.0" textLength="94.8" lengthAdjust="spacingAndGlyphs">difference</tspan> <tspan x="187.6" textLength="80.9" lengthAdjust="spacingAndGlyphs">between</tspan> <tspan x="275.9" textLength="26.4" lengthAdjust="spacingAndGlyphs">1st</tspan> <tspan x="312.0" textLength="48.0" lengthAdjust="spacingAndGlyphs">listed</tspan> <tspan x="369.8" textLength="76.6" lengthAdjust="spacingAndGlyphs">contract</tspan> <tspan x="454.3" textLength="61.9" lengthAdjust="spacingAndGlyphs">month</tspan> <tspan x="524.1" textLength="35.1" lengthAdjust="spacingAndGlyphs">and</tspan> <tspan x="566.5" textLength="30.5" lengthAdjust="spacingAndGlyphs">7th</tspan> <tspan x="604.9" textLength="50.5" lengthAdjust="spacingAndGlyphs">listed</tspan></text>
<text y="762.0" font-size="21.8"><tspan x="26.2" textLength="79.4" lengthAdjust="spacingAndGlyphs">contract</tspan> <tspan x="112.4" textLength="63.5" lengthAdjust="spacingAndGlyphs">month</tspan> <tspan x="184.2" textLength="24.7" lengthAdjust="spacingAndGlyphs">for</tspan> <tspan x="219.5" textLength="49.0" lengthAdjust="spacingAndGlyphs">Brent</tspan> <tspan x="277.3" textLength="65.8" lengthAdjust="spacingAndGlyphs">futures</tspan> <tspan x="351.9" textLength="112.9" lengthAdjust="spacingAndGlyphs">(U.S.$/bbl)</tspan></text>
<text y="788.8" font-size="21.8"><tspan x="25.9" textLength="94.2" lengthAdjust="spacingAndGlyphs">Contango</tspan> <tspan x="129.8" textLength="22.0" lengthAdjust="spacingAndGlyphs">(-)</tspan> <tspan x="159.7" textLength="18.8" lengthAdjust="spacingAndGlyphs">or</tspan> <tspan x="187.3" textLength="141.9" lengthAdjust="spacingAndGlyphs">backwardation</tspan> <tspan x="339.5" textLength="25.5" lengthAdjust="spacingAndGlyphs">(+)</tspan> <tspan x="374.4" textLength="128.0" lengthAdjust="spacingAndGlyphs">exponentially</tspan> <tspan x="512.7" textLength="85.9" lengthAdjust="spacingAndGlyphs">weighted</tspan> <tspan x="609.6" textLength="74.1" lengthAdjust="spacingAndGlyphs">moving</tspan></text>
<text y="814.8" font-size="21.8"><tspan x="25.9" textLength="74.8" lengthAdjust="spacingAndGlyphs">average</tspan></text>
<text y="734.6" font-size="21.8"><tspan x="745.5" textLength="71.5" lengthAdjust="spacingAndGlyphs">Source:</tspan> <tspan x="823.9" textLength="40.2" lengthAdjust="spacingAndGlyphs">ICE</tspan> <tspan x="872.1" textLength="73.9" lengthAdjust="spacingAndGlyphs">Futures</tspan> <tspan x="956.2" textLength="69.1" lengthAdjust="spacingAndGlyphs">Europe</tspan></text>
<text y="761.2" font-size="21.8"><tspan x="745.5" textLength="160.1" lengthAdjust="spacingAndGlyphs">@JKempEnergy</tspan></text></g>
</svg>
</body></html>
